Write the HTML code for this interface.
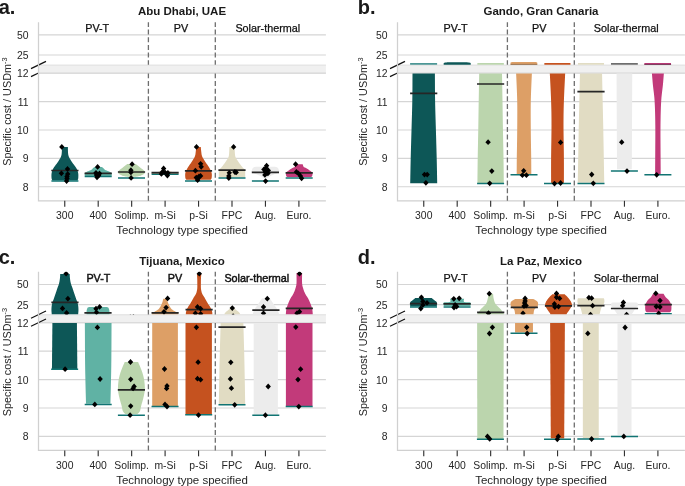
<!DOCTYPE html><html><head><meta charset="utf-8"><style>html,body{margin:0;padding:0;background:#fff;}svg{display:block;font-family:"Liberation Sans", sans-serif;will-change:transform;}</style></head><body>
<svg width="685" height="486" viewBox="0 0 685 486">
<rect width="685" height="486" fill="#fff"/>
<defs>
<clipPath id="cau"><rect x="38.5" y="22.2" width="287.4" height="42.6"/></clipPath>
<clipPath id="cal"><rect x="38.5" y="73.4" width="287.4" height="127.4"/></clipPath>
<clipPath id="cbu"><rect x="397.5" y="22.2" width="287.4" height="42.6"/></clipPath>
<clipPath id="cbl"><rect x="397.5" y="73.4" width="287.4" height="127.4"/></clipPath>
<clipPath id="ccu"><rect x="38.5" y="271.8" width="287.4" height="42.6"/></clipPath>
<clipPath id="ccl"><rect x="38.5" y="323" width="287.4" height="127.4"/></clipPath>
<clipPath id="cdu"><rect x="397.5" y="271.8" width="287.4" height="42.6"/></clipPath>
<clipPath id="cdl"><rect x="397.5" y="323" width="287.4" height="127.4"/></clipPath>
</defs>
<rect x="38.5" y="64.6" width="287.4" height="9.3" fill="#f0f0f0"/>
<line x1="38.5" x2="325.9" y1="65.2" y2="65.2" stroke="#e1e1e1" stroke-width="1"/>
<line x1="38.5" x2="325.9" y1="34.9" y2="34.9" stroke="#d5d5d5" stroke-width="1.15"/>
<line x1="38.5" x2="325.9" y1="55" y2="55" stroke="#d5d5d5" stroke-width="1.15"/>
<line x1="38.5" x2="325.9" y1="73.15" y2="73.15" stroke="#d5d5d5" stroke-width="1.15"/>
<line x1="38.5" x2="325.9" y1="101.55" y2="101.55" stroke="#d5d5d5" stroke-width="1.15"/>
<line x1="38.5" x2="325.9" y1="130" y2="130" stroke="#d5d5d5" stroke-width="1.15"/>
<line x1="38.5" x2="325.9" y1="158.4" y2="158.4" stroke="#d5d5d5" stroke-width="1.15"/>
<line x1="38.5" x2="325.9" y1="186.7" y2="186.7" stroke="#d5d5d5" stroke-width="1.15"/>
<line x1="31" y1="68.6" x2="46" y2="61.4" stroke="#111" stroke-width="1.2"/>
<line x1="31" y1="76.6" x2="38.5" y2="73" stroke="#111" stroke-width="1.2"/>
<path d="M38.5,22.2 L38.5,200.8 L325.9,200.8" fill="none" stroke="#d0d0d0" stroke-width="1.25"/>
<rect x="397.5" y="64.6" width="287.4" height="9.3" fill="#f0f0f0"/>
<line x1="397.5" x2="684.9" y1="65.2" y2="65.2" stroke="#e1e1e1" stroke-width="1"/>
<line x1="397.5" x2="684.9" y1="34.9" y2="34.9" stroke="#d5d5d5" stroke-width="1.15"/>
<line x1="397.5" x2="684.9" y1="55" y2="55" stroke="#d5d5d5" stroke-width="1.15"/>
<line x1="397.5" x2="684.9" y1="73.15" y2="73.15" stroke="#d5d5d5" stroke-width="1.15"/>
<line x1="397.5" x2="684.9" y1="101.55" y2="101.55" stroke="#d5d5d5" stroke-width="1.15"/>
<line x1="397.5" x2="684.9" y1="130" y2="130" stroke="#d5d5d5" stroke-width="1.15"/>
<line x1="397.5" x2="684.9" y1="158.4" y2="158.4" stroke="#d5d5d5" stroke-width="1.15"/>
<line x1="397.5" x2="684.9" y1="186.7" y2="186.7" stroke="#d5d5d5" stroke-width="1.15"/>
<line x1="390" y1="68.6" x2="405" y2="61.4" stroke="#111" stroke-width="1.2"/>
<line x1="390" y1="76.6" x2="397.5" y2="73" stroke="#111" stroke-width="1.2"/>
<path d="M397.5,22.2 L397.5,200.8 L684.9,200.8" fill="none" stroke="#d0d0d0" stroke-width="1.25"/>
<rect x="38.5" y="314.2" width="287.4" height="9.3" fill="#f0f0f0"/>
<line x1="38.5" x2="325.9" y1="314.8" y2="314.8" stroke="#e1e1e1" stroke-width="1"/>
<line x1="38.5" x2="325.9" y1="284.5" y2="284.5" stroke="#d5d5d5" stroke-width="1.15"/>
<line x1="38.5" x2="325.9" y1="304.6" y2="304.6" stroke="#d5d5d5" stroke-width="1.15"/>
<line x1="38.5" x2="325.9" y1="322.75" y2="322.75" stroke="#d5d5d5" stroke-width="1.15"/>
<line x1="38.5" x2="325.9" y1="351.15" y2="351.15" stroke="#d5d5d5" stroke-width="1.15"/>
<line x1="38.5" x2="325.9" y1="379.6" y2="379.6" stroke="#d5d5d5" stroke-width="1.15"/>
<line x1="38.5" x2="325.9" y1="408" y2="408" stroke="#d5d5d5" stroke-width="1.15"/>
<line x1="38.5" x2="325.9" y1="436.3" y2="436.3" stroke="#d5d5d5" stroke-width="1.15"/>
<line x1="31" y1="318.2" x2="46" y2="311" stroke="#111" stroke-width="1.2"/>
<line x1="31" y1="326.2" x2="46" y2="319" stroke="#111" stroke-width="1.2"/>
<path d="M38.5,271.8 L38.5,450.4 L325.9,450.4" fill="none" stroke="#d0d0d0" stroke-width="1.25"/>
<rect x="397.5" y="314.2" width="287.4" height="9.3" fill="#f0f0f0"/>
<line x1="397.5" x2="684.9" y1="314.8" y2="314.8" stroke="#e1e1e1" stroke-width="1"/>
<line x1="397.5" x2="684.9" y1="284.5" y2="284.5" stroke="#d5d5d5" stroke-width="1.15"/>
<line x1="397.5" x2="684.9" y1="304.6" y2="304.6" stroke="#d5d5d5" stroke-width="1.15"/>
<line x1="397.5" x2="684.9" y1="322.75" y2="322.75" stroke="#d5d5d5" stroke-width="1.15"/>
<line x1="397.5" x2="684.9" y1="351.15" y2="351.15" stroke="#d5d5d5" stroke-width="1.15"/>
<line x1="397.5" x2="684.9" y1="379.6" y2="379.6" stroke="#d5d5d5" stroke-width="1.15"/>
<line x1="397.5" x2="684.9" y1="408" y2="408" stroke="#d5d5d5" stroke-width="1.15"/>
<line x1="397.5" x2="684.9" y1="436.3" y2="436.3" stroke="#d5d5d5" stroke-width="1.15"/>
<line x1="390" y1="318.2" x2="405" y2="311" stroke="#111" stroke-width="1.2"/>
<line x1="390" y1="326.2" x2="405" y2="319" stroke="#111" stroke-width="1.2"/>
<path d="M397.5,271.8 L397.5,450.4 L684.9,450.4" fill="none" stroke="#d0d0d0" stroke-width="1.25"/>
<g clip-path="url(#cal)">
<path d="M61.9,147.1 L61.89,147.64 L61.89,148.4 L61.89,149.3 L61.87,150.25 L61.85,151.18 L61.8,152 L61.75,152.72 L61.7,153.39 L61.63,154.04 L61.54,154.68 L61.4,155.33 L61.2,156 L60.94,156.7 L60.61,157.41 L60.25,158.13 L59.85,158.86 L59.43,159.58 L59,160.3 L58.55,161.02 L58.06,161.73 L57.55,162.44 L57.03,163.16 L56.51,163.88 L56,164.6 L55.48,165.33 L54.94,166.06 L54.4,166.8 L53.88,167.54 L53.41,168.27 L53,169 L52.66,169.72 L52.37,170.44 L52.12,171.16 L51.91,171.87 L51.74,172.58 L51.6,173.3 L51.5,174.04 L51.45,174.82 L51.44,175.59 L51.45,176.34 L51.47,177.02 L51.5,177.6 L51.54,178.08 L51.59,178.47 L51.66,178.81 L51.73,179.09 L51.82,179.35 L51.9,179.6 L52,179.84 L52.11,180.04 L52.23,180.22 L52.34,180.38 L52.43,180.5 L52.5,180.6 L77.3,180.6 L77.37,180.5 L77.46,180.38 L77.58,180.22 L77.69,180.04 L77.8,179.84 L77.9,179.6 L77.98,179.35 L78.07,179.09 L78.14,178.81 L78.21,178.47 L78.26,178.08 L78.3,177.6 L78.33,177.02 L78.35,176.34 L78.36,175.59 L78.35,174.82 L78.3,174.04 L78.2,173.3 L78.06,172.58 L77.89,171.87 L77.68,171.16 L77.43,170.44 L77.14,169.72 L76.8,169 L76.39,168.27 L75.92,167.54 L75.4,166.8 L74.86,166.06 L74.32,165.33 L73.8,164.6 L73.29,163.88 L72.77,163.16 L72.25,162.44 L71.74,161.73 L71.25,161.02 L70.8,160.3 L70.37,159.58 L69.95,158.86 L69.55,158.13 L69.19,157.41 L68.86,156.7 L68.6,156 L68.4,155.33 L68.26,154.68 L68.17,154.04 L68.1,153.39 L68.05,152.72 L68,152 L67.95,151.18 L67.93,150.25 L67.91,149.3 L67.91,148.4 L67.91,147.64 L67.9,147.1 Z" fill="#0d5757"/>
<path d="M94.7,166.9 L94.54,167.01 L94.33,167.16 L94.08,167.33 L93.79,167.53 L93.5,167.76 L93.2,168 L92.93,168.27 L92.67,168.57 L92.4,168.89 L92.09,169.23 L91.7,169.57 L91.2,169.9 L90.54,170.24 L89.72,170.59 L88.83,170.94 L87.94,171.28 L87.14,171.61 L86.5,171.9 L86.02,172.14 L85.65,172.32 L85.36,172.49 L85.13,172.67 L84.95,172.89 L84.8,173.2 L84.7,173.64 L84.67,174.19 L84.69,174.78 L84.74,175.36 L84.78,175.85 L84.8,176.2 L111.6,176.2 L111.62,175.85 L111.66,175.36 L111.71,174.78 L111.73,174.19 L111.7,173.64 L111.6,173.2 L111.45,172.89 L111.27,172.67 L111.04,172.49 L110.75,172.32 L110.38,172.14 L109.9,171.9 L109.26,171.61 L108.46,171.28 L107.57,170.94 L106.68,170.59 L105.86,170.24 L105.2,169.9 L104.7,169.57 L104.31,169.23 L104,168.89 L103.73,168.57 L103.47,168.27 L103.2,168 L102.9,167.76 L102.61,167.53 L102.33,167.33 L102.07,167.16 L101.86,167.01 L101.7,166.9 Z" fill="#60b2a4"/>
<path d="M127.3,164 L126.74,164.44 L125.94,165.06 L125,165.79 L124.02,166.56 L123.09,167.29 L122.3,167.9 L121.64,168.41 L121.01,168.87 L120.44,169.3 L119.93,169.69 L119.48,170.06 L119.1,170.4 L118.8,170.7 L118.57,170.96 L118.41,171.18 L118.3,171.4 L118.23,171.63 L118.2,171.9 L118.18,172.2 L118.19,172.53 L118.23,172.87 L118.35,173.21 L118.56,173.56 L118.9,173.9 L119.4,174.25 L120.03,174.61 L120.77,174.98 L121.56,175.32 L122.35,175.64 L123.1,175.9 L123.87,176.11 L124.71,176.29 L125.56,176.42 L126.35,176.54 L127.02,176.63 L127.5,176.7 L135.5,176.7 L135.98,176.63 L136.65,176.54 L137.44,176.42 L138.29,176.29 L139.13,176.11 L139.9,175.9 L140.65,175.64 L141.44,175.32 L142.23,174.98 L142.97,174.61 L143.6,174.25 L144.1,173.9 L144.44,173.56 L144.65,173.21 L144.77,172.87 L144.81,172.53 L144.82,172.2 L144.8,171.9 L144.77,171.63 L144.7,171.4 L144.59,171.18 L144.43,170.96 L144.2,170.7 L143.9,170.4 L143.52,170.06 L143.07,169.69 L142.56,169.3 L141.99,168.87 L141.36,168.41 L140.7,167.9 L139.91,167.29 L138.98,166.56 L138,165.79 L137.06,165.06 L136.26,164.44 L135.7,164 Z" fill="#bbd5ad"/>
<path d="M163.1,171.3 L162.44,171.39 L161.51,171.51 L160.41,171.66 L159.25,171.81 L158.11,171.96 L157.1,172.1 L156.15,172.22 L155.17,172.33 L154.22,172.44 L153.36,172.55 L152.63,172.67 L152.1,172.8 L151.81,172.96 L151.73,173.15 L151.79,173.34 L151.91,173.53 L152.04,173.69 L152.1,173.8 L178.1,173.8 L178.16,173.69 L178.29,173.53 L178.41,173.34 L178.47,173.15 L178.39,172.96 L178.1,172.8 L177.57,172.67 L176.84,172.55 L175.97,172.44 L175.03,172.33 L174.05,172.22 L173.1,172.1 L172.09,171.96 L170.95,171.81 L169.79,171.66 L168.69,171.51 L167.76,171.39 L167.1,171.3 Z" fill="#dd9f66"/>
<path d="M196.2,147.1 L196.15,147.64 L196.08,148.4 L195.99,149.3 L195.9,150.25 L195.8,151.18 L195.7,152 L195.61,152.72 L195.54,153.39 L195.46,154.04 L195.36,154.68 L195.21,155.33 L195,156 L194.72,156.7 L194.37,157.41 L193.99,158.13 L193.57,158.86 L193.14,159.58 L192.7,160.3 L192.25,161.02 L191.77,161.73 L191.28,162.44 L190.78,163.16 L190.28,163.88 L189.8,164.6 L189.31,165.33 L188.82,166.06 L188.32,166.8 L187.85,167.54 L187.4,168.27 L187,169 L186.63,169.72 L186.29,170.44 L185.97,171.16 L185.7,171.87 L185.47,172.58 L185.3,173.3 L185.19,174.05 L185.15,174.83 L185.16,175.62 L185.19,176.37 L185.25,177.04 L185.3,177.6 L185.37,178.03 L185.46,178.37 L185.56,178.63 L185.68,178.84 L185.79,179.02 L185.9,179.2 L186.01,179.36 L186.12,179.5 L186.24,179.6 L186.34,179.68 L186.43,179.75 L186.5,179.8 L210.5,179.8 L210.57,179.75 L210.66,179.68 L210.76,179.6 L210.88,179.5 L210.99,179.36 L211.1,179.2 L211.21,179.02 L211.32,178.84 L211.44,178.63 L211.54,178.37 L211.63,178.03 L211.7,177.6 L211.75,177.04 L211.81,176.37 L211.84,175.62 L211.85,174.83 L211.81,174.05 L211.7,173.3 L211.53,172.58 L211.3,171.87 L211.03,171.16 L210.71,170.44 L210.37,169.72 L210,169 L209.6,168.27 L209.15,167.54 L208.68,166.8 L208.18,166.06 L207.69,165.33 L207.2,164.6 L206.72,163.88 L206.22,163.16 L205.72,162.44 L205.23,161.73 L204.75,161.02 L204.3,160.3 L203.86,159.58 L203.43,158.86 L203.01,158.13 L202.63,157.41 L202.28,156.7 L202,156 L201.79,155.33 L201.64,154.68 L201.54,154.04 L201.46,153.39 L201.39,152.72 L201.3,152 L201.2,151.18 L201.1,150.25 L201.01,149.3 L200.92,148.4 L200.85,147.64 L200.8,147.1 Z" fill="#c5521f"/>
<path d="M229.4,147.1 L229.35,148.12 L229.3,149.58 L229.24,151.28 L229.14,153.04 L229,154.68 L228.8,156 L228.54,156.98 L228.21,157.77 L227.85,158.44 L227.45,159.04 L227.03,159.64 L226.6,160.3 L226.14,161.03 L225.65,161.76 L225.14,162.5 L224.61,163.23 L224.1,163.93 L223.6,164.6 L223.11,165.25 L222.61,165.89 L222.12,166.51 L221.65,167.1 L221.21,167.63 L220.8,168.1 L220.42,168.47 L220.07,168.73 L219.74,168.95 L219.44,169.17 L219.2,169.43 L219,169.8 L218.87,170.27 L218.81,170.82 L218.79,171.41 L218.79,172.04 L218.8,172.67 L218.8,173.3 L218.79,173.97 L218.79,174.71 L218.79,175.47 L218.79,176.17 L218.8,176.77 L218.8,177.2 L245.2,177.2 L245.2,176.77 L245.21,176.17 L245.21,175.47 L245.21,174.71 L245.21,173.97 L245.2,173.3 L245.2,172.67 L245.21,172.04 L245.21,171.41 L245.19,170.82 L245.13,170.27 L245,169.8 L244.8,169.43 L244.56,169.17 L244.26,168.95 L243.93,168.73 L243.58,168.47 L243.2,168.1 L242.79,167.63 L242.35,167.1 L241.88,166.51 L241.39,165.89 L240.89,165.25 L240.4,164.6 L239.9,163.93 L239.39,163.23 L238.86,162.5 L238.35,161.76 L237.86,161.03 L237.4,160.3 L236.97,159.64 L236.55,159.04 L236.15,158.44 L235.79,157.77 L235.46,156.98 L235.2,156 L235,154.68 L234.86,153.04 L234.76,151.28 L234.7,149.58 L234.65,148.12 L234.6,147.1 Z" fill="#e1dcc3"/>
<path d="M256.4,166.7 L256.07,166.76 L255.6,166.81 L255.04,166.89 L254.47,167.01 L253.94,167.17 L253.5,167.4 L253.15,167.71 L252.84,168.1 L252.57,168.54 L252.34,169 L252.15,169.46 L252,169.9 L251.84,170.32 L251.67,170.73 L251.53,171.15 L251.5,171.57 L251.64,171.98 L252,172.4 L252.68,172.82 L253.63,173.25 L254.76,173.68 L255.93,174.1 L257.05,174.51 L258,174.9 L258.79,175.27 L259.51,175.62 L260.17,175.96 L260.78,176.29 L261.36,176.6 L261.9,176.9 L262.43,177.2 L262.93,177.49 L263.39,177.78 L263.8,178.03 L264.14,178.24 L264.4,178.4 L266.4,178.4 L266.66,178.24 L267,178.03 L267.41,177.78 L267.87,177.49 L268.37,177.2 L268.9,176.9 L269.44,176.6 L270.02,176.29 L270.63,175.96 L271.29,175.62 L272.01,175.27 L272.8,174.9 L273.75,174.51 L274.87,174.1 L276.04,173.68 L277.17,173.25 L278.12,172.82 L278.8,172.4 L279.16,171.98 L279.3,171.57 L279.27,171.15 L279.13,170.73 L278.96,170.32 L278.8,169.9 L278.65,169.46 L278.46,169 L278.23,168.54 L277.96,168.1 L277.65,167.71 L277.3,167.4 L276.86,167.17 L276.33,167.01 L275.76,166.89 L275.2,166.81 L274.73,166.76 L274.4,166.7 Z" fill="#ececec"/>
<path d="M295.7,164.2 L295.61,164.51 L295.49,164.96 L295.34,165.49 L295.16,166.03 L294.95,166.52 L294.7,166.9 L294.42,167.15 L294.11,167.3 L293.77,167.41 L293.39,167.52 L292.97,167.67 L292.5,167.9 L291.96,168.24 L291.33,168.64 L290.67,169.09 L290,169.55 L289.36,169.99 L288.8,170.4 L288.29,170.76 L287.8,171.1 L287.34,171.43 L286.93,171.75 L286.58,172.07 L286.3,172.4 L286.1,172.74 L285.98,173.07 L285.91,173.41 L285.89,173.75 L285.89,174.08 L285.9,174.4 L285.93,174.72 L285.99,175.06 L286.07,175.38 L286.18,175.69 L286.29,175.97 L286.4,176.2 L286.53,176.39 L286.67,176.54 L286.83,176.66 L286.98,176.76 L287.11,176.84 L287.2,176.9 L311.2,176.9 L311.29,176.84 L311.42,176.76 L311.57,176.66 L311.73,176.54 L311.87,176.39 L312,176.2 L312.11,175.97 L312.22,175.69 L312.32,175.38 L312.41,175.06 L312.47,174.72 L312.5,174.4 L312.51,174.08 L312.51,173.75 L312.49,173.41 L312.42,173.07 L312.3,172.74 L312.1,172.4 L311.82,172.07 L311.47,171.75 L311.06,171.43 L310.6,171.1 L310.11,170.76 L309.6,170.4 L309.04,169.99 L308.4,169.55 L307.73,169.09 L307.07,168.64 L306.44,168.24 L305.9,167.9 L305.43,167.67 L305.01,167.52 L304.63,167.41 L304.29,167.3 L303.98,167.15 L303.7,166.9 L303.45,166.52 L303.24,166.03 L303.06,165.49 L302.91,164.96 L302.79,164.51 L302.7,164.2 Z" fill="#c23a7a"/>
<line x1="51.4" x2="78.4" y1="181" y2="181" stroke="#117473" stroke-width="1.5"/>
<line x1="51.3" x2="78.5" y1="170.5" y2="170.5" stroke="#262626" stroke-width="1.7"/>
<line x1="84.7" x2="111.7" y1="176.6" y2="176.6" stroke="#117473" stroke-width="1.5"/>
<line x1="84.6" x2="111.8" y1="173.3" y2="173.3" stroke="#262626" stroke-width="1.7"/>
<line x1="118" x2="145" y1="178.1" y2="178.1" stroke="#117473" stroke-width="1.5"/>
<line x1="117.9" x2="145.1" y1="172" y2="172" stroke="#262626" stroke-width="1.7"/>
<line x1="151.6" x2="178.6" y1="174.3" y2="174.3" stroke="#117473" stroke-width="1.5"/>
<line x1="151.5" x2="178.7" y1="172.7" y2="172.7" stroke="#262626" stroke-width="1.7"/>
<line x1="185" x2="212" y1="181.1" y2="181.1" stroke="#117473" stroke-width="1.5"/>
<line x1="184.9" x2="212.1" y1="170.9" y2="170.9" stroke="#262626" stroke-width="1.7"/>
<line x1="218.5" x2="245.5" y1="178" y2="178" stroke="#117473" stroke-width="1.5"/>
<line x1="218.4" x2="245.6" y1="170.2" y2="170.2" stroke="#262626" stroke-width="1.7"/>
<line x1="251.9" x2="278.9" y1="181.1" y2="181.1" stroke="#117473" stroke-width="1.5"/>
<line x1="251.8" x2="279" y1="172.4" y2="172.4" stroke="#262626" stroke-width="1.7"/>
<line x1="285.7" x2="312.7" y1="178.1" y2="178.1" stroke="#117473" stroke-width="1.5"/>
<line x1="285.6" x2="312.8" y1="172.9" y2="172.9" stroke="#262626" stroke-width="1.7"/>
<path d="M61.8,144 L64.5,146.9 L61.8,149.8 L59.1,146.9 Z" fill="#000"/>
<path d="M67.5,166.1 L70.2,169 L67.5,171.9 L64.8,169 Z" fill="#000"/>
<path d="M61.4,170.4 L64.1,173.3 L61.4,176.2 L58.7,173.3 Z" fill="#000"/>
<path d="M67.7,171.2 L70.4,174.1 L67.7,177 L65,174.1 Z" fill="#000"/>
<path d="M67,173.6 L69.7,176.5 L67,179.4 L64.3,176.5 Z" fill="#000"/>
<path d="M67,175.6 L69.7,178.5 L67,181.4 L64.3,178.5 Z" fill="#000"/>
<path d="M66.6,178.2 L69.3,181.1 L66.6,184 L63.9,181.1 Z" fill="#000"/>
<path d="M97.6,164 L100.3,166.9 L97.6,169.8 L94.9,166.9 Z" fill="#000"/>
<path d="M96,169.9 L98.7,172.8 L96,175.7 L93.3,172.8 Z" fill="#000"/>
<path d="M99.5,170.6 L102.2,173.5 L99.5,176.4 L96.8,173.5 Z" fill="#000"/>
<path d="M96.5,172.1 L99.2,175 L96.5,177.9 L93.8,175 Z" fill="#000"/>
<path d="M98.6,172.6 L101.3,175.5 L98.6,178.4 L95.9,175.5 Z" fill="#000"/>
<path d="M97,174.4 L99.7,177.3 L97,180.2 L94.3,177.3 Z" fill="#000"/>
<path d="M132.1,161.3 L134.8,164.2 L132.1,167.1 L129.4,164.2 Z" fill="#000"/>
<path d="M130.9,167.3 L133.6,170.2 L130.9,173.1 L128.2,170.2 Z" fill="#000"/>
<path d="M130.9,169.5 L133.6,172.4 L130.9,175.3 L128.2,172.4 Z" fill="#000"/>
<path d="M131.1,175 L133.8,177.9 L131.1,180.8 L128.4,177.9 Z" fill="#000"/>
<path d="M163.6,165.6 L166.3,168.5 L163.6,171.4 L160.9,168.5 Z" fill="#000"/>
<path d="M162.4,169 L165.1,171.9 L162.4,174.8 L159.7,171.9 Z" fill="#000"/>
<path d="M167.9,170 L170.6,172.9 L167.9,175.8 L165.2,172.9 Z" fill="#000"/>
<path d="M161.4,171 L164.1,173.9 L161.4,176.8 L158.7,173.9 Z" fill="#000"/>
<path d="M167.4,172.7 L170.1,175.6 L167.4,178.5 L164.7,175.6 Z" fill="#000"/>
<path d="M165,169.6 L167.7,172.5 L165,175.4 L162.3,172.5 Z" fill="#000"/>
<path d="M196.5,144 L199.2,146.9 L196.5,149.8 L193.8,146.9 Z" fill="#000"/>
<path d="M200.6,160.9 L203.3,163.8 L200.6,166.7 L197.9,163.8 Z" fill="#000"/>
<path d="M201.2,163.9 L203.9,166.8 L201.2,169.7 L198.5,166.8 Z" fill="#000"/>
<path d="M195.4,167.8 L198.1,170.7 L195.4,173.6 L192.7,170.7 Z" fill="#000"/>
<path d="M200.6,173 L203.3,175.9 L200.6,178.8 L197.9,175.9 Z" fill="#000"/>
<path d="M196.3,174.7 L199,177.6 L196.3,180.5 L193.6,177.6 Z" fill="#000"/>
<path d="M197.6,177.3 L200.3,180.2 L197.6,183.1 L194.9,180.2 Z" fill="#000"/>
<path d="M199,173.6 L201.7,176.5 L199,179.4 L196.3,176.5 Z" fill="#000"/>
<path d="M198,175.6 L200.7,178.5 L198,181.4 L195.3,178.5 Z" fill="#000"/>
<path d="M233.6,144 L236.3,146.9 L233.6,149.8 L230.9,146.9 Z" fill="#000"/>
<path d="M234.9,169.1 L237.6,172 L234.9,174.9 L232.2,172 Z" fill="#000"/>
<path d="M236.2,169.5 L238.9,172.4 L236.2,175.3 L233.5,172.4 Z" fill="#000"/>
<path d="M229.3,169.9 L232,172.8 L229.3,175.7 L226.6,172.8 Z" fill="#000"/>
<path d="M228.8,173 L231.5,175.9 L228.8,178.8 L226.1,175.9 Z" fill="#000"/>
<path d="M228.8,175.1 L231.5,178 L228.8,180.9 L226.1,178 Z" fill="#000"/>
<path d="M266.6,162.8 L269.3,165.7 L266.6,168.6 L263.9,165.7 Z" fill="#000"/>
<path d="M265.9,165 L268.6,167.9 L265.9,170.8 L263.2,167.9 Z" fill="#000"/>
<path d="M263.9,166.5 L266.6,169.4 L263.9,172.3 L261.2,169.4 Z" fill="#000"/>
<path d="M268.3,167.5 L271,170.4 L268.3,173.3 L265.6,170.4 Z" fill="#000"/>
<path d="M265.1,169 L267.8,171.9 L265.1,174.8 L262.4,171.9 Z" fill="#000"/>
<path d="M267.9,170.5 L270.6,173.4 L267.9,176.3 L265.2,173.4 Z" fill="#000"/>
<path d="M264.9,172 L267.6,174.9 L264.9,177.8 L262.2,174.9 Z" fill="#000"/>
<path d="M265.6,178.2 L268.3,181.1 L265.6,184 L262.9,181.1 Z" fill="#000"/>
<path d="M295.6,161.3 L298.3,164.2 L295.6,167.1 L292.9,164.2 Z" fill="#000"/>
<path d="M296.4,169 L299.1,171.9 L296.4,174.8 L293.7,171.9 Z" fill="#000"/>
<path d="M298.4,170.5 L301.1,173.4 L298.4,176.3 L295.7,173.4 Z" fill="#000"/>
<path d="M300.4,173 L303.1,175.9 L300.4,178.8 L297.7,175.9 Z" fill="#000"/>
<path d="M301.6,175.4 L304.3,178.3 L301.6,181.2 L298.9,178.3 Z" fill="#000"/>
</g>
<g clip-path="url(#cbl)">
<path d="M412.5,73 L412.49,76.03 L412.47,80.22 L412.45,85.19 L412.42,90.56 L412.37,95.95 L412.3,101 L412.2,105.78 L412.08,110.62 L411.94,115.48 L411.79,120.35 L411.64,125.2 L411.5,130 L411.36,134.8 L411.22,139.61 L411.08,144.4 L410.94,149.14 L410.82,153.78 L410.7,158.3 L410.59,162.95 L410.49,167.8 L410.4,172.57 L410.32,176.94 L410.25,180.62 L410.2,183.3 L437.2,183.3 L437.15,180.62 L437.08,176.94 L437,172.57 L436.91,167.8 L436.81,162.95 L436.7,158.3 L436.58,153.78 L436.46,149.14 L436.32,144.4 L436.18,139.61 L436.04,134.8 L435.9,130 L435.76,125.2 L435.61,120.35 L435.46,115.48 L435.32,110.62 L435.2,105.78 L435.1,101 L435.03,95.95 L434.98,90.56 L434.95,85.19 L434.93,80.22 L434.91,76.03 L434.9,73 Z" fill="#0d5757"/>
<path d="M479.2,73 L479.15,76.03 L479.07,80.22 L478.98,85.19 L478.88,90.56 L478.79,95.95 L478.7,101 L478.62,105.79 L478.55,110.63 L478.48,115.5 L478.41,120.37 L478.33,125.21 L478.25,130 L478.16,134.76 L478.06,139.51 L477.97,144.23 L477.87,148.9 L477.78,153.5 L477.7,158 L477.63,162.67 L477.57,167.57 L477.52,172.4 L477.47,176.84 L477.43,180.58 L477.4,183.3 L503.8,183.3 L503.77,180.58 L503.73,176.84 L503.68,172.4 L503.63,167.57 L503.57,162.67 L503.5,158 L503.42,153.5 L503.33,148.9 L503.23,144.23 L503.14,139.51 L503.04,134.76 L502.95,130 L502.87,125.21 L502.79,120.37 L502.72,115.5 L502.65,110.63 L502.58,105.79 L502.5,101 L502.41,95.95 L502.32,90.56 L502.22,85.19 L502.13,80.22 L502.05,76.03 L502,73 Z" fill="#bbd5ad"/>
<path d="M516.1,73 L516.23,76.03 L516.43,80.22 L516.65,85.19 L516.87,90.56 L517.07,95.95 L517.2,101 L517.27,105.79 L517.3,110.63 L517.29,115.5 L517.27,120.37 L517.24,125.21 L517.2,130 L517.15,134.86 L517.09,139.86 L517.01,144.82 L516.93,149.6 L516.85,154.05 L516.8,158 L516.76,161.53 L516.74,164.79 L516.73,167.7 L516.71,170.23 L516.71,172.31 L516.7,173.9 L531.3,173.9 L531.29,172.31 L531.29,170.23 L531.27,167.7 L531.26,164.79 L531.24,161.53 L531.2,158 L531.15,154.05 L531.07,149.6 L530.99,144.82 L530.91,139.86 L530.85,134.86 L530.8,130 L530.76,125.21 L530.73,120.37 L530.71,115.5 L530.7,110.63 L530.73,105.79 L530.8,101 L530.93,95.95 L531.13,90.56 L531.35,85.19 L531.57,80.22 L531.77,76.03 L531.9,73 Z" fill="#dd9f66"/>
<path d="M549.8,73 L549.95,76.09 L550.17,80.41 L550.42,85.5 L550.69,90.93 L550.92,96.24 L551.1,101 L551.23,105.13 L551.33,108.96 L551.41,112.69 L551.46,116.48 L551.49,120.53 L551.5,125 L551.48,130.07 L551.41,135.62 L551.33,141.42 L551.23,147.24 L551.15,152.85 L551.1,158 L551.08,162.94 L551.07,167.91 L551.08,172.66 L551.09,176.96 L551.1,180.55 L551.1,183.2 L563.9,183.2 L563.9,180.55 L563.91,176.96 L563.92,172.66 L563.93,167.91 L563.92,162.94 L563.9,158 L563.85,152.85 L563.77,147.24 L563.67,141.42 L563.59,135.62 L563.52,130.07 L563.5,125 L563.51,120.53 L563.54,116.48 L563.59,112.69 L563.67,108.96 L563.77,105.13 L563.9,101 L564.08,96.24 L564.31,90.93 L564.58,85.5 L564.83,80.41 L565.05,76.09 L565.2,73 Z" fill="#c5521f"/>
<path d="M579.95,73 L579.81,79.2 L579.61,88.22 L579.38,98.69 L579.15,109.22 L578.94,118.45 L578.8,125 L578.73,128 L578.72,128.38 L578.74,127.45 L578.76,126.53 L578.75,126.94 L578.7,130 L578.58,136.64 L578.41,146.01 L578.22,156.71 L578.03,167.34 L577.86,176.5 L577.75,182.8 L604.25,182.8 L604.14,176.5 L603.97,167.34 L603.78,156.71 L603.59,146.01 L603.42,136.64 L603.3,130 L603.25,126.94 L603.24,126.53 L603.26,127.45 L603.28,128.38 L603.27,128 L603.2,125 L603.06,118.45 L602.85,109.22 L602.62,98.69 L602.39,88.22 L602.19,79.2 L602.05,73 Z" fill="#e1dcc3"/>
<path d="M616.55,73 L616.58,79.41 L616.62,88.44 L616.66,99.05 L616.71,110.21 L616.76,120.87 L616.8,130 L616.84,138.02 L616.88,145.84 L616.92,153.16 L616.95,159.7 L616.98,165.14 L617,169.2 L631.8,169.2 L631.82,165.14 L631.85,159.7 L631.88,153.16 L631.92,145.84 L631.96,138.02 L632,130 L632.04,120.87 L632.09,110.21 L632.14,99.05 L632.18,88.44 L632.22,79.41 L632.25,73 Z" fill="#ececec"/>
<path d="M651.9,73 L652,74.26 L652.13,75.96 L652.29,78 L652.48,80.26 L652.68,82.63 L652.9,85 L653.15,87.34 L653.45,89.74 L653.77,92.25 L654.08,94.93 L654.37,97.82 L654.6,101 L654.78,104.43 L654.94,108.07 L655.06,111.94 L655.16,116.04 L655.24,120.39 L655.3,125 L655.33,130.18 L655.33,135.96 L655.3,142 L655.26,147.93 L655.23,153.38 L655.2,158 L655.18,161.84 L655.16,165.19 L655.14,168.06 L655.13,170.48 L655.11,172.46 L655.1,174 L660.7,174 L660.69,172.46 L660.67,170.48 L660.66,168.06 L660.64,165.19 L660.62,161.84 L660.6,158 L660.57,153.38 L660.54,147.93 L660.5,142 L660.47,135.96 L660.47,130.18 L660.5,125 L660.56,120.39 L660.64,116.04 L660.74,111.94 L660.86,108.07 L661.02,104.43 L661.2,101 L661.43,97.82 L661.72,94.93 L662.03,92.25 L662.35,89.74 L662.65,87.34 L662.9,85 L663.12,82.63 L663.32,80.26 L663.51,78 L663.67,75.96 L663.8,74.26 L663.9,73 Z" fill="#c23a7a"/>
<line x1="410.1" x2="437.3" y1="93.3" y2="93.3" stroke="#262626" stroke-width="1.7"/>
<line x1="477.1" x2="504.1" y1="183.6" y2="183.6" stroke="#117473" stroke-width="1.5"/>
<line x1="477" x2="504.2" y1="84" y2="84" stroke="#262626" stroke-width="1.7"/>
<line x1="510.5" x2="537.5" y1="174.7" y2="174.7" stroke="#117473" stroke-width="1.5"/>
<line x1="544" x2="571" y1="183.6" y2="183.6" stroke="#117473" stroke-width="1.5"/>
<line x1="577.5" x2="604.5" y1="183.6" y2="183.6" stroke="#117473" stroke-width="1.5"/>
<line x1="577.4" x2="604.6" y1="91.7" y2="91.7" stroke="#262626" stroke-width="1.7"/>
<line x1="610.9" x2="637.9" y1="171.1" y2="171.1" stroke="#117473" stroke-width="1.5"/>
<line x1="644.4" x2="671.4" y1="174.8" y2="174.8" stroke="#117473" stroke-width="1.5"/>
<path d="M424.5,171.7 L427.2,174.6 L424.5,177.5 L421.8,174.6 Z" fill="#000"/>
<path d="M427.2,171.7 L429.9,174.6 L427.2,177.5 L424.5,174.6 Z" fill="#000"/>
<path d="M425.9,179.9 L428.6,182.8 L425.9,185.7 L423.2,182.8 Z" fill="#000"/>
<path d="M488.1,139.3 L490.8,142.2 L488.1,145.1 L485.4,142.2 Z" fill="#000"/>
<path d="M491.8,168.2 L494.5,171.1 L491.8,174 L489.1,171.1 Z" fill="#000"/>
<path d="M489.7,180.4 L492.4,183.3 L489.7,186.2 L487,183.3 Z" fill="#000"/>
<path d="M523.7,167.9 L526.4,170.8 L523.7,173.7 L521,170.8 Z" fill="#000"/>
<path d="M522.4,172.3 L525.1,175.2 L522.4,178.1 L519.7,175.2 Z" fill="#000"/>
<path d="M526.4,172.3 L529.1,175.2 L526.4,178.1 L523.7,175.2 Z" fill="#000"/>
<path d="M560.6,139.5 L563.3,142.4 L560.6,145.3 L557.9,142.4 Z" fill="#000"/>
<path d="M554.5,180.7 L557.2,183.6 L554.5,186.5 L551.8,183.6 Z" fill="#000"/>
<path d="M560.6,180.1 L563.3,183 L560.6,185.9 L557.9,183 Z" fill="#000"/>
<path d="M591.7,171.6 L594.4,174.5 L591.7,177.4 L589,174.5 Z" fill="#000"/>
<path d="M593.3,180.4 L596,183.3 L593.3,186.2 L590.6,183.3 Z" fill="#000"/>
<path d="M621.7,139.3 L624.4,142.2 L621.7,145.1 L619,142.2 Z" fill="#000"/>
<path d="M627,168.2 L629.7,171.1 L627,174 L624.3,171.1 Z" fill="#000"/>
<path d="M656.7,171.9 L659.4,174.8 L656.7,177.7 L654,174.8 Z" fill="#000"/>
</g>
<g clip-path="url(#cbu)">
<path d="M448.2,62.2 L447.79,62.25 L447.2,62.33 L446.51,62.41 L445.81,62.51 L445.18,62.61 L444.7,62.7 L444.38,62.78 L444.14,62.86 L443.98,62.93 L443.87,63.02 L443.78,63.14 L443.7,63.3 L443.64,63.53 L443.63,63.82 L443.64,64.14 L443.66,64.45 L443.69,64.71 L443.7,64.9 L470.7,64.9 L470.71,64.71 L470.74,64.45 L470.76,64.14 L470.77,63.82 L470.76,63.53 L470.7,63.3 L470.62,63.14 L470.53,63.02 L470.42,62.93 L470.26,62.86 L470.02,62.78 L469.7,62.7 L469.22,62.61 L468.59,62.51 L467.89,62.41 L467.2,62.33 L466.61,62.25 L466.2,62.2 Z" fill="#0d5757"/>
<path d="M477.4,63.1 L477.3,64.9 L503.9,64.9 L503.8,63.1 Z" fill="#bbd5ad"/>
<path d="M511.9,62.1 L511.74,62.13 L511.51,62.16 L511.25,62.21 L510.99,62.28 L510.76,62.41 L510.6,62.6 L510.52,62.91 L510.5,63.32 L510.52,63.78 L510.55,64.24 L510.58,64.63 L510.6,64.9 L537.2,64.9 L537.22,64.63 L537.25,64.24 L537.28,63.78 L537.3,63.32 L537.28,62.91 L537.2,62.6 L537.04,62.41 L536.81,62.28 L536.55,62.21 L536.29,62.16 L536.06,62.13 L535.9,62.1 Z" fill="#dd9f66"/>
<path d="M544.8,62.9 L544.75,62.93 L544.67,62.96 L544.57,63 L544.48,63.06 L544.4,63.16 L544.35,63.3 L544.32,63.52 L544.32,63.8 L544.32,64.12 L544.33,64.44 L544.34,64.71 L544.35,64.9 L570.45,64.9 L570.46,64.71 L570.47,64.44 L570.48,64.12 L570.48,63.8 L570.48,63.52 L570.45,63.3 L570.4,63.16 L570.32,63.06 L570.23,63 L570.13,62.96 L570.05,62.93 L570,62.9 Z" fill="#c5521f"/>
<path d="M578,63 L578,64.9 L604,64.9 L604,63 Z" fill="#e1dcc3"/>
<path d="M610.9,63 L610.9,64.9 L637.9,64.9 L637.9,63 Z" fill="#ececec"/>
<path d="M644.9,62.9 L644.84,62.93 L644.75,62.96 L644.65,63 L644.55,63.06 L644.46,63.16 L644.4,63.3 L644.37,63.52 L644.36,63.8 L644.37,64.12 L644.38,64.44 L644.39,64.71 L644.4,64.9 L671,64.9 L671.01,64.71 L671.02,64.44 L671.03,64.12 L671.04,63.8 L671.03,63.52 L671,63.3 L670.94,63.16 L670.85,63.06 L670.75,63 L670.65,62.96 L670.56,62.93 L670.5,62.9 Z" fill="#c23a7a"/>
<line x1="410.1" x2="437.1" y1="64" y2="64" stroke="#117473" stroke-width="1.5"/>
<line x1="510.5" x2="537.3" y1="64.4" y2="64.4" stroke="#7a5c44" stroke-width="0.9"/>
<line x1="611" x2="637.8" y1="64" y2="64" stroke="#444" stroke-width="1.3"/>
<line x1="644.3" x2="671.1" y1="64.4" y2="64.4" stroke="#5a2a44" stroke-width="1.0"/>
</g>
<g clip-path="url(#ccu)">
<path d="M60.2,274 L60.18,274.46 L60.16,275.09 L60.13,275.83 L60.09,276.65 L60.03,277.49 L59.95,278.3 L59.85,279.1 L59.73,279.94 L59.6,280.79 L59.44,281.66 L59.26,282.53 L59.05,283.4 L58.8,284.26 L58.51,285.13 L58.2,286 L57.88,286.87 L57.55,287.74 L57.25,288.6 L56.96,289.45 L56.68,290.3 L56.4,291.15 L56.12,292 L55.84,292.85 L55.55,293.7 L55.25,294.56 L54.95,295.43 L54.65,296.3 L54.35,297.17 L54.05,298.04 L53.75,298.9 L53.45,299.75 L53.14,300.6 L52.83,301.45 L52.53,302.3 L52.27,303.15 L52.05,304 L51.88,304.86 L51.74,305.72 L51.62,306.59 L51.54,307.46 L51.49,308.33 L51.45,309.2 L51.45,310.14 L51.49,311.16 L51.56,312.17 L51.64,313.12 L51.71,313.92 L51.75,314.5 L78.15,314.5 L78.19,313.92 L78.26,313.12 L78.34,312.17 L78.41,311.16 L78.45,310.14 L78.45,309.2 L78.41,308.33 L78.36,307.46 L78.28,306.59 L78.16,305.72 L78.02,304.86 L77.85,304 L77.63,303.15 L77.37,302.3 L77.08,301.45 L76.76,300.6 L76.45,299.75 L76.15,298.9 L75.85,298.04 L75.55,297.17 L75.25,296.3 L74.95,295.43 L74.65,294.56 L74.35,293.7 L74.06,292.85 L73.78,292 L73.5,291.15 L73.22,290.3 L72.94,289.45 L72.65,288.6 L72.35,287.74 L72.02,286.87 L71.7,286 L71.39,285.13 L71.1,284.26 L70.85,283.4 L70.64,282.53 L70.46,281.66 L70.3,280.79 L70.17,279.94 L70.05,279.1 L69.95,278.3 L69.87,277.49 L69.81,276.65 L69.77,275.83 L69.74,275.09 L69.72,274.46 L69.7,274 Z" fill="#0d5757"/>
<path d="M89,307.1 L88.86,307.13 L88.65,307.15 L88.41,307.19 L88.16,307.26 L87.91,307.39 L87.7,307.6 L87.51,307.89 L87.31,308.25 L87.13,308.66 L86.96,309.13 L86.82,309.64 L86.7,310.2 L86.62,310.87 L86.57,311.67 L86.54,312.51 L86.52,313.32 L86.51,314.01 L86.5,314.5 L109.5,314.5 L109.49,314.01 L109.48,313.32 L109.46,312.51 L109.43,311.67 L109.38,310.87 L109.3,310.2 L109.18,309.64 L109.04,309.13 L108.87,308.66 L108.69,308.25 L108.49,307.89 L108.3,307.6 L108.09,307.39 L107.84,307.26 L107.59,307.19 L107.35,307.15 L107.14,307.13 L107,307.1 Z" fill="#60b2a4"/>
<path d="M163.3,298.75 L163.18,299.21 L163.03,299.84 L162.84,300.59 L162.63,301.4 L162.38,302.22 L162.1,303 L161.78,303.77 L161.41,304.6 L161.01,305.43 L160.59,306.23 L160.18,306.97 L159.8,307.6 L159.45,308.11 L159.11,308.53 L158.78,308.88 L158.44,309.19 L158.09,309.48 L157.7,309.8 L157.26,310.13 L156.78,310.46 L156.28,310.78 L155.79,311.08 L155.32,311.36 L154.9,311.6 L154.53,311.8 L154.2,311.96 L153.89,312.1 L153.6,312.23 L153.34,312.35 L153.1,312.5 L152.88,312.66 L152.68,312.82 L152.5,312.99 L152.34,313.16 L152.21,313.33 L152.1,313.5 L152.02,313.69 L151.97,313.9 L151.94,314.11 L151.92,314.31 L151.91,314.48 L151.9,314.6 L178.3,314.6 L178.29,314.48 L178.28,314.31 L178.26,314.11 L178.23,313.9 L178.18,313.69 L178.1,313.5 L177.99,313.33 L177.86,313.16 L177.7,312.99 L177.52,312.82 L177.32,312.66 L177.1,312.5 L176.86,312.35 L176.6,312.23 L176.31,312.1 L176,311.96 L175.67,311.8 L175.3,311.6 L174.88,311.36 L174.41,311.08 L173.92,310.78 L173.42,310.46 L172.94,310.13 L172.5,309.8 L172.11,309.48 L171.76,309.19 L171.42,308.88 L171.09,308.53 L170.75,308.11 L170.4,307.6 L170.02,306.97 L169.61,306.23 L169.19,305.43 L168.79,304.6 L168.42,303.77 L168.1,303 L167.82,302.22 L167.57,301.4 L167.36,300.59 L167.17,299.84 L167.02,299.21 L166.9,298.75 Z" fill="#dd9f66"/>
<path d="M196.9,273.7 L196.93,274.16 L196.99,274.77 L197.04,275.51 L197.1,276.33 L197.16,277.17 L197.2,278 L197.23,278.84 L197.26,279.71 L197.28,280.62 L197.29,281.55 L197.3,282.48 L197.3,283.4 L197.31,284.32 L197.32,285.25 L197.33,286.19 L197.32,287.11 L197.28,288.02 L197.2,288.9 L197.08,289.74 L196.94,290.56 L196.77,291.35 L196.56,292.13 L196.31,292.91 L196,293.7 L195.62,294.49 L195.18,295.27 L194.69,296.06 L194.18,296.84 L193.67,297.62 L193.2,298.4 L192.76,299.18 L192.34,299.96 L191.92,300.74 L191.5,301.53 L191.06,302.31 L190.6,303.1 L190.09,303.91 L189.54,304.73 L188.97,305.56 L188.43,306.37 L187.92,307.16 L187.5,307.9 L187.16,308.6 L186.87,309.27 L186.62,309.92 L186.42,310.54 L186.25,311.13 L186.1,311.7 L185.98,312.27 L185.91,312.84 L185.86,313.39 L185.84,313.88 L185.82,314.29 L185.8,314.6 L212.4,314.6 L212.38,314.29 L212.36,313.88 L212.34,313.39 L212.29,312.84 L212.22,312.27 L212.1,311.7 L211.95,311.13 L211.78,310.54 L211.57,309.92 L211.33,309.27 L211.04,308.6 L210.7,307.9 L210.28,307.16 L209.77,306.37 L209.22,305.56 L208.66,304.73 L208.11,303.91 L207.6,303.1 L207.14,302.31 L206.7,301.53 L206.28,300.74 L205.86,299.96 L205.44,299.18 L205,298.4 L204.53,297.62 L204.02,296.84 L203.51,296.06 L203.02,295.27 L202.58,294.49 L202.2,293.7 L201.89,292.91 L201.64,292.13 L201.43,291.35 L201.26,290.56 L201.12,289.74 L201,288.9 L200.92,288.02 L200.88,287.11 L200.87,286.19 L200.88,285.25 L200.89,284.32 L200.9,283.4 L200.9,282.48 L200.91,281.55 L200.92,280.62 L200.94,279.71 L200.97,278.84 L201,278 L201.04,277.17 L201.1,276.33 L201.16,275.51 L201.21,274.77 L201.27,274.16 L201.3,273.7 Z" fill="#c5521f"/>
<path d="M230.8,307.6 L230.65,307.76 L230.46,307.96 L230.23,308.21 L229.94,308.5 L229.6,308.83 L229.2,309.2 L228.69,309.64 L228.07,310.16 L227.39,310.71 L226.72,311.28 L226.1,311.82 L225.6,312.3 L225.21,312.74 L224.89,313.18 L224.62,313.59 L224.41,313.96 L224.24,314.27 L224.1,314.5 L240.5,314.5 L240.36,314.27 L240.19,313.96 L239.98,313.59 L239.71,313.18 L239.39,312.74 L239,312.3 L238.5,311.82 L237.88,311.28 L237.21,310.71 L236.53,310.16 L235.91,309.64 L235.4,309.2 L235,308.83 L234.66,308.5 L234.38,308.21 L234.14,307.96 L233.95,307.76 L233.8,307.6 Z" fill="#e1dcc3"/>
<path d="M262,298.4 L261.58,299.01 L261.01,299.87 L260.32,300.87 L259.59,301.96 L258.87,303.02 L258.2,304 L257.57,304.9 L256.91,305.8 L256.26,306.69 L255.64,307.56 L255.08,308.4 L254.6,309.2 L254.2,309.98 L253.86,310.76 L253.58,311.5 L253.35,312.19 L253.16,312.8 L253,313.3 L252.9,313.68 L252.85,313.96 L252.85,314.16 L252.87,314.3 L252.89,314.4 L252.9,314.5 L278.9,314.5 L278.91,314.4 L278.93,314.3 L278.95,314.16 L278.95,313.96 L278.9,313.68 L278.8,313.3 L278.64,312.8 L278.45,312.19 L278.22,311.5 L277.94,310.76 L277.6,309.98 L277.2,309.2 L276.72,308.4 L276.16,307.56 L275.54,306.69 L274.89,305.8 L274.23,304.9 L273.6,304 L272.93,303.02 L272.21,301.96 L271.47,300.87 L270.79,299.87 L270.22,299.01 L269.8,298.4 Z" fill="#ececec"/>
<path d="M296.5,273.1 L296.51,274.28 L296.54,275.96 L296.57,277.93 L296.58,279.96 L296.56,281.86 L296.5,283.4 L296.39,284.56 L296.25,285.51 L296.07,286.32 L295.87,287.06 L295.65,287.8 L295.4,288.6 L295.13,289.46 L294.84,290.31 L294.53,291.16 L294.18,292 L293.81,292.85 L293.4,293.7 L292.94,294.55 L292.42,295.4 L291.87,296.24 L291.31,297.09 L290.78,297.94 L290.3,298.8 L289.86,299.66 L289.45,300.53 L289.06,301.4 L288.69,302.27 L288.33,303.14 L288,304 L287.68,304.87 L287.37,305.74 L287.09,306.62 L286.83,307.48 L286.59,308.31 L286.4,309.1 L286.25,309.87 L286.13,310.64 L286.05,311.39 L285.99,312.08 L285.94,312.69 L285.9,313.2 L285.87,313.59 L285.86,313.89 L285.87,314.11 L285.88,314.27 L285.89,314.39 L285.9,314.5 L312.7,314.5 L312.71,314.39 L312.72,314.27 L312.73,314.11 L312.74,313.89 L312.73,313.59 L312.7,313.2 L312.66,312.69 L312.61,312.08 L312.55,311.39 L312.47,310.64 L312.35,309.87 L312.2,309.1 L312.01,308.31 L311.77,307.48 L311.51,306.62 L311.23,305.74 L310.92,304.87 L310.6,304 L310.27,303.14 L309.91,302.27 L309.54,301.4 L309.15,300.53 L308.74,299.66 L308.3,298.8 L307.82,297.94 L307.29,297.09 L306.73,296.24 L306.18,295.4 L305.66,294.55 L305.2,293.7 L304.79,292.85 L304.42,292 L304.07,291.16 L303.76,290.31 L303.47,289.46 L303.2,288.6 L302.95,287.8 L302.73,287.06 L302.53,286.32 L302.35,285.51 L302.21,284.56 L302.1,283.4 L302.04,281.86 L302.02,279.96 L302.03,277.93 L302.06,275.96 L302.09,274.28 L302.1,273.1 Z" fill="#c23a7a"/>
<line x1="51.35" x2="78.55" y1="302.3" y2="302.3" stroke="#262626" stroke-width="1.7"/>
<line x1="84.4" x2="111.6" y1="312.8" y2="312.8" stroke="#262626" stroke-width="1.7"/>
<line x1="151.5" x2="178.7" y1="312.8" y2="312.8" stroke="#262626" stroke-width="1.7"/>
<line x1="185.5" x2="212.7" y1="309.7" y2="309.7" stroke="#262626" stroke-width="1.7"/>
<line x1="252.3" x2="279.5" y1="310.2" y2="310.2" stroke="#262626" stroke-width="1.7"/>
<line x1="285.7" x2="312.9" y1="308.4" y2="308.4" stroke="#262626" stroke-width="1.7"/>
<path d="M66.1,270.8 L68.8,273.7 L66.1,276.6 L63.4,273.7 Z" fill="#000"/>
<path d="M67.9,295.8 L70.6,298.7 L67.9,301.6 L65.2,298.7 Z" fill="#000"/>
<path d="M62.5,305.5 L65.2,308.4 L62.5,311.3 L59.8,308.4 Z" fill="#000"/>
<path d="M66.6,310.1 L69.3,313 L66.6,315.9 L63.9,313 Z" fill="#000"/>
<path d="M99.6,304 L102.3,306.9 L99.6,309.8 L96.9,306.9 Z" fill="#000"/>
<path d="M96,305.8 L98.7,308.7 L96,311.6 L93.3,308.7 Z" fill="#000"/>
<path d="M96.5,309.4 L99.2,312.3 L96.5,315.2 L93.8,312.3 Z" fill="#000"/>
<path d="M167.6,295.5 L170.3,298.4 L167.6,301.3 L164.9,298.4 Z" fill="#000"/>
<path d="M166.1,304.7 L168.8,307.6 L166.1,310.5 L163.4,307.6 Z" fill="#000"/>
<path d="M164,308.9 L166.7,311.8 L164,314.7 L161.3,311.8 Z" fill="#000"/>
<path d="M199.3,270.8 L202,273.7 L199.3,276.6 L196.6,273.7 Z" fill="#000"/>
<path d="M197.5,304 L200.2,306.9 L197.5,309.8 L194.8,306.9 Z" fill="#000"/>
<path d="M200.6,305.8 L203.3,308.7 L200.6,311.6 L197.9,308.7 Z" fill="#000"/>
<path d="M195.4,310.4 L198.1,313.3 L195.4,316.2 L192.7,313.3 Z" fill="#000"/>
<path d="M200.6,310.9 L203.3,313.8 L200.6,316.7 L197.9,313.8 Z" fill="#000"/>
<path d="M232.3,305.2 L235,308.1 L232.3,311 L229.6,308.1 Z" fill="#000"/>
<path d="M267.3,295.8 L270,298.7 L267.3,301.6 L264.6,298.7 Z" fill="#000"/>
<path d="M263.5,304 L266.2,306.9 L263.5,309.8 L260.8,306.9 Z" fill="#000"/>
<path d="M263.5,310.4 L266.2,313.3 L263.5,316.2 L260.8,313.3 Z" fill="#000"/>
<path d="M299.5,270.8 L302.2,273.7 L299.5,276.6 L296.8,273.7 Z" fill="#000"/>
<path d="M299.5,308.8 L302.2,311.7 L299.5,314.6 L296.8,311.7 Z" fill="#000"/>
<path d="M297,310.3 L299.7,313.2 L297,316.1 L294.3,313.2 Z" fill="#000"/>
<path d="M130.3,314.3 L133,317.2 L130.3,320.1 L127.6,317.2 Z" fill="#000"/>
<path d="M133.4,314.1 L136.1,317 L133.4,319.9 L130.7,317 Z" fill="#000"/>
<path d="M233.1,313.3 L235.8,316.2 L233.1,319.1 L230.4,316.2 Z" fill="#000"/>
</g>
<g clip-path="url(#ccl)">
<path d="M52.4,322.6 L51.95,369.2 L77.35,369.2 L76.9,322.6 Z" fill="#0d5757"/>
<path d="M84.85,322.6 L84.87,326.87 L84.9,332.94 L84.93,340.05 L84.96,347.44 L85.01,354.34 L85.05,360 L85.1,364.3 L85.15,367.81 L85.2,370.85 L85.26,373.7 L85.33,376.65 L85.4,380 L85.49,384.02 L85.6,388.53 L85.72,393.15 L85.84,397.49 L85.93,401.17 L86,403.8 L110.4,403.8 L110.47,401.17 L110.56,397.49 L110.68,393.15 L110.8,388.53 L110.91,384.02 L111,380 L111.07,376.65 L111.14,373.7 L111.2,370.85 L111.25,367.81 L111.3,364.3 L111.35,360 L111.39,354.34 L111.44,347.44 L111.47,340.05 L111.5,332.94 L111.53,326.87 L111.55,322.6 Z" fill="#60b2a4"/>
<path d="M124.7,362 L124.4,362.69 L123.99,363.65 L123.49,364.78 L122.97,366.01 L122.46,367.24 L122,368.4 L121.58,369.5 L121.17,370.61 L120.76,371.73 L120.38,372.86 L120.02,373.98 L119.7,375.1 L119.42,376.2 L119.16,377.29 L118.93,378.37 L118.73,379.47 L118.55,380.61 L118.4,381.8 L118.26,383.06 L118.13,384.37 L118.03,385.72 L117.97,387.09 L117.95,388.45 L118,389.8 L118.12,391.13 L118.3,392.47 L118.54,393.8 L118.81,395.13 L119.1,396.47 L119.4,397.8 L119.73,399.16 L120.11,400.56 L120.51,401.96 L120.9,403.33 L121.28,404.62 L121.6,405.8 L121.85,406.88 L122.06,407.89 L122.23,408.82 L122.41,409.68 L122.62,410.47 L122.9,411.2 L123.28,411.86 L123.74,412.46 L124.23,412.99 L124.71,413.44 L125.11,413.81 L125.4,414.1 L137.4,414.1 L137.69,413.81 L138.09,413.44 L138.57,412.99 L139.06,412.46 L139.52,411.86 L139.9,411.2 L140.18,410.47 L140.39,409.68 L140.57,408.82 L140.74,407.89 L140.95,406.88 L141.2,405.8 L141.52,404.62 L141.9,403.33 L142.29,401.96 L142.69,400.56 L143.07,399.16 L143.4,397.8 L143.7,396.47 L143.99,395.13 L144.26,393.8 L144.5,392.47 L144.68,391.13 L144.8,389.8 L144.85,388.45 L144.83,387.09 L144.77,385.72 L144.67,384.37 L144.54,383.06 L144.4,381.8 L144.25,380.61 L144.07,379.47 L143.87,378.37 L143.64,377.29 L143.38,376.2 L143.1,375.1 L142.78,373.98 L142.42,372.86 L142.04,371.73 L141.63,370.61 L141.22,369.5 L140.8,368.4 L140.34,367.24 L139.83,366.01 L139.31,364.78 L138.81,363.65 L138.4,362.69 L138.1,362 Z" fill="#bbd5ad"/>
<path d="M152.2,322.6 L152.2,406.1 L177.9,406.1 L177.9,322.6 Z" fill="#dd9f66"/>
<path d="M185.5,322.6 L185.5,414.3 L211.9,414.3 L211.9,322.6 Z" fill="#c5521f"/>
<path d="M220.65,322.6 L220.53,326.75 L220.37,332.44 L220.18,339.2 L219.97,346.56 L219.77,354.05 L219.6,361.2 L219.44,368.63 L219.29,376.86 L219.13,385.21 L219,393.03 L218.88,399.65 L218.8,404.4 L245.2,404.4 L245.12,399.65 L245,393.03 L244.87,385.21 L244.71,376.86 L244.56,368.63 L244.4,361.2 L244.23,354.05 L244.03,346.56 L243.82,339.2 L243.63,332.44 L243.47,326.75 L243.35,322.6 Z" fill="#e1dcc3"/>
<path d="M253.7,322.6 L253.7,414.8 L277.9,414.8 L277.9,322.6 Z" fill="#ececec"/>
<path d="M285.9,322.6 L285.9,406.1 L312.5,406.1 L312.5,322.6 Z" fill="#c23a7a"/>
<line x1="51.15" x2="78.15" y1="369.2" y2="369.2" stroke="#117473" stroke-width="1.5"/>
<line x1="84.7" x2="111.7" y1="404.4" y2="404.4" stroke="#117473" stroke-width="1.5"/>
<line x1="117.9" x2="144.9" y1="415.2" y2="415.2" stroke="#117473" stroke-width="1.5"/>
<line x1="117.8" x2="145" y1="389.8" y2="389.8" stroke="#262626" stroke-width="1.7"/>
<line x1="151.55" x2="178.55" y1="406.5" y2="406.5" stroke="#117473" stroke-width="1.5"/>
<line x1="185.2" x2="212.2" y1="414.7" y2="414.7" stroke="#117473" stroke-width="1.5"/>
<line x1="218.5" x2="245.5" y1="404.8" y2="404.8" stroke="#117473" stroke-width="1.5"/>
<line x1="218.4" x2="245.6" y1="327.1" y2="327.1" stroke="#262626" stroke-width="1.7"/>
<line x1="252.3" x2="279.3" y1="415.2" y2="415.2" stroke="#117473" stroke-width="1.5"/>
<line x1="285.7" x2="312.7" y1="406.6" y2="406.6" stroke="#117473" stroke-width="1.5"/>
<path d="M65.1,366.3 L67.8,369.2 L65.1,372.1 L62.4,369.2 Z" fill="#000"/>
<path d="M97.4,324.5 L100.1,327.4 L97.4,330.3 L94.7,327.4 Z" fill="#000"/>
<path d="M100.1,376.1 L102.8,379 L100.1,381.9 L97.4,379 Z" fill="#000"/>
<path d="M94.8,401.5 L97.5,404.4 L94.8,407.3 L92.1,404.4 Z" fill="#000"/>
<path d="M130.5,359.1 L133.2,362 L130.5,364.9 L127.8,362 Z" fill="#000"/>
<path d="M130.7,376.4 L133.4,379.3 L130.7,382.2 L128,379.3 Z" fill="#000"/>
<path d="M134.1,383.5 L136.8,386.4 L134.1,389.3 L131.4,386.4 Z" fill="#000"/>
<path d="M133.1,385.5 L135.8,388.4 L133.1,391.3 L130.4,388.4 Z" fill="#000"/>
<path d="M130.7,403.2 L133.4,406.1 L130.7,409 L128,406.1 Z" fill="#000"/>
<path d="M130.1,412.3 L132.8,415.2 L130.1,418.1 L127.4,415.2 Z" fill="#000"/>
<path d="M164.5,366.1 L167.2,369 L164.5,371.9 L161.8,369 Z" fill="#000"/>
<path d="M167,383 L169.7,385.9 L167,388.8 L164.3,385.9 Z" fill="#000"/>
<path d="M166.6,385.5 L169.3,388.4 L166.6,391.3 L163.9,388.4 Z" fill="#000"/>
<path d="M165,401.5 L167.7,404.4 L165,407.3 L162.3,404.4 Z" fill="#000"/>
<path d="M167,403.6 L169.7,406.5 L167,409.4 L164.3,406.5 Z" fill="#000"/>
<path d="M196.4,324.4 L199.1,327.3 L196.4,330.2 L193.7,327.3 Z" fill="#000"/>
<path d="M198.1,359.3 L200.8,362.2 L198.1,365.1 L195.4,362.2 Z" fill="#000"/>
<path d="M197.5,375.8 L200.2,378.7 L197.5,381.6 L194.8,378.7 Z" fill="#000"/>
<path d="M200.6,376.8 L203.3,379.7 L200.6,382.6 L197.9,379.7 Z" fill="#000"/>
<path d="M198.5,412.2 L201.2,415.1 L198.5,418 L195.8,415.1 Z" fill="#000"/>
<path d="M230.8,359.4 L233.5,362.3 L230.8,365.2 L228.1,362.3 Z" fill="#000"/>
<path d="M230.4,376 L233.1,378.9 L230.4,381.8 L227.7,378.9 Z" fill="#000"/>
<path d="M231.4,385.3 L234.1,388.2 L231.4,391.1 L228.7,388.2 Z" fill="#000"/>
<path d="M234.7,401.9 L237.4,404.8 L234.7,407.7 L232,404.8 Z" fill="#000"/>
<path d="M268.2,383.6 L270.9,386.5 L268.2,389.4 L265.5,386.5 Z" fill="#000"/>
<path d="M265.4,412.3 L268.1,415.2 L265.4,418.1 L262.7,415.2 Z" fill="#000"/>
<path d="M295.8,324.2 L298.5,327.1 L295.8,330 L293.1,327.1 Z" fill="#000"/>
<path d="M300.6,366.3 L303.3,369.2 L300.6,372.1 L297.9,369.2 Z" fill="#000"/>
<path d="M298,376.7 L300.7,379.6 L298,382.5 L295.3,379.6 Z" fill="#000"/>
<path d="M298.8,403.7 L301.5,406.6 L298.8,409.5 L296.1,406.6 Z" fill="#000"/>
</g>
<g clip-path="url(#cdu)">
<path d="M415.3,298.1 L414.99,298.34 L414.56,298.67 L414.04,299.07 L413.5,299.49 L412.97,299.91 L412.5,300.3 L412.06,300.63 L411.61,300.93 L411.18,301.23 L410.78,301.56 L410.44,301.94 L410.2,302.4 L410.07,303.02 L410.03,303.77 L410.06,304.58 L410.11,305.36 L410.17,306.03 L410.2,306.5 L436.8,306.5 L436.83,306.03 L436.89,305.36 L436.94,304.58 L436.97,303.77 L436.93,303.02 L436.8,302.4 L436.56,301.94 L436.22,301.56 L435.82,301.23 L435.39,300.93 L434.94,300.63 L434.5,300.3 L434.03,299.91 L433.5,299.49 L432.96,299.07 L432.44,298.67 L432.01,298.34 L431.7,298.1 Z" fill="#0d5757"/>
<path d="M450.05,298.8 L450.12,299.17 L450.28,299.7 L450.44,300.31 L450.51,300.94 L450.41,301.49 L450.05,301.9 L449.3,302.11 L448.2,302.18 L446.93,302.17 L445.65,302.18 L444.55,302.26 L443.8,302.5 L443.44,302.96 L443.34,303.58 L443.41,304.29 L443.57,304.99 L443.73,305.59 L443.8,306 L470.4,306 L470.47,305.59 L470.63,304.99 L470.79,304.29 L470.86,303.58 L470.76,302.96 L470.4,302.5 L469.65,302.26 L468.55,302.18 L467.28,302.17 L466,302.18 L464.9,302.11 L464.15,301.9 L463.79,301.49 L463.69,300.94 L463.76,300.31 L463.92,299.7 L464.08,299.17 L464.15,298.8 Z" fill="#60b2a4"/>
<path d="M488.3,293.7 L488.25,294.25 L488.19,295.02 L488.12,295.93 L488.02,296.9 L487.88,297.89 L487.7,298.8 L487.49,299.66 L487.27,300.53 L487.02,301.4 L486.7,302.27 L486.31,303.14 L485.8,304 L485.14,304.87 L484.32,305.74 L483.43,306.62 L482.51,307.48 L481.65,308.31 L480.9,309.1 L480.25,309.87 L479.63,310.64 L479.06,311.39 L478.56,312.08 L478.13,312.69 L477.8,313.2 L477.58,313.59 L477.48,313.89 L477.46,314.11 L477.47,314.27 L477.5,314.39 L477.5,314.5 L503.9,314.5 L503.9,314.39 L503.93,314.27 L503.94,314.11 L503.92,313.89 L503.82,313.59 L503.6,313.2 L503.27,312.69 L502.84,312.08 L502.34,311.39 L501.77,310.64 L501.15,309.87 L500.5,309.1 L499.75,308.31 L498.89,307.48 L497.97,306.62 L497.08,305.74 L496.26,304.87 L495.6,304 L495.09,303.14 L494.7,302.27 L494.38,301.4 L494.13,300.53 L493.91,299.66 L493.7,298.8 L493.52,297.89 L493.38,296.9 L493.28,295.93 L493.21,295.02 L493.15,294.25 L493.1,293.7 Z" fill="#bbd5ad"/>
<path d="M515.8,298.9 L515.66,298.94 L515.48,298.99 L515.26,299.04 L515,299.14 L514.68,299.28 L514.3,299.5 L513.8,299.79 L513.18,300.13 L512.51,300.53 L511.85,300.98 L511.29,301.47 L510.9,302 L510.67,302.6 L510.53,303.29 L510.49,304.01 L510.54,304.75 L510.68,305.46 L510.9,306.1 L511.26,306.66 L511.78,307.17 L512.39,307.65 L513.01,308.13 L513.57,308.64 L514,309.2 L514.3,309.86 L514.52,310.6 L514.69,311.37 L514.81,312.11 L514.91,312.77 L515,313.3 L515.07,313.68 L515.1,313.96 L515.11,314.16 L515.11,314.3 L515.1,314.4 L515.1,314.5 L533.5,314.5 L533.5,314.4 L533.49,314.3 L533.49,314.16 L533.5,313.96 L533.53,313.68 L533.6,313.3 L533.69,312.77 L533.79,312.11 L533.91,311.37 L534.08,310.6 L534.3,309.86 L534.6,309.2 L535.03,308.64 L535.59,308.13 L536.21,307.65 L536.82,307.17 L537.34,306.66 L537.7,306.1 L537.92,305.46 L538.06,304.75 L538.11,304.01 L538.07,303.29 L537.93,302.6 L537.7,302 L537.31,301.47 L536.75,300.98 L536.09,300.53 L535.42,300.13 L534.8,299.79 L534.3,299.5 L533.92,299.28 L533.6,299.14 L533.34,299.04 L533.12,298.99 L532.94,298.94 L532.8,298.9 Z" fill="#dd9f66"/>
<path d="M552.3,294.3 L551.9,294.69 L551.34,295.21 L550.67,295.84 L549.97,296.53 L549.3,297.23 L548.7,297.9 L548.16,298.56 L547.63,299.25 L547.12,299.95 L546.66,300.65 L546.24,301.34 L545.9,302 L545.62,302.63 L545.38,303.24 L545.19,303.83 L545.08,304.42 L545.04,305.01 L545.1,305.6 L545.27,306.19 L545.56,306.78 L545.92,307.37 L546.34,307.96 L546.78,308.57 L547.2,309.2 L547.65,309.89 L548.17,310.64 L548.7,311.4 L549.21,312.13 L549.66,312.78 L550,313.3 L550.22,313.68 L550.36,313.96 L550.42,314.16 L550.46,314.3 L550.47,314.4 L550.5,314.5 L566.5,314.5 L566.53,314.4 L566.54,314.3 L566.58,314.16 L566.64,313.96 L566.78,313.68 L567,313.3 L567.34,312.78 L567.79,312.13 L568.3,311.4 L568.83,310.64 L569.35,309.89 L569.8,309.2 L570.22,308.57 L570.66,307.96 L571.08,307.37 L571.44,306.78 L571.73,306.19 L571.9,305.6 L571.96,305.01 L571.92,304.42 L571.81,303.83 L571.62,303.24 L571.38,302.63 L571.1,302 L570.76,301.34 L570.34,300.65 L569.88,299.95 L569.37,299.25 L568.84,298.56 L568.3,297.9 L567.7,297.23 L567.03,296.53 L566.33,295.84 L565.66,295.21 L565.1,294.69 L564.7,294.3 Z" fill="#c5521f"/>
<path d="M578.4,298.2 L578.31,298.25 L578.18,298.29 L578.02,298.35 L577.87,298.47 L577.74,298.67 L577.65,299 L577.57,299.47 L577.49,300.06 L577.42,300.73 L577.41,301.47 L577.48,302.23 L577.65,303 L577.97,303.78 L578.44,304.6 L578.98,305.44 L579.54,306.31 L580.06,307.2 L580.5,308.1 L580.86,309.07 L581.19,310.14 L581.48,311.23 L581.73,312.25 L581.94,313.13 L582.1,313.8 L582.19,314.21 L582.22,314.43 L582.2,314.51 L582.16,314.5 L582.12,314.48 L582.1,314.5 L599.7,314.5 L599.68,314.48 L599.64,314.5 L599.6,314.51 L599.58,314.43 L599.61,314.21 L599.7,313.8 L599.86,313.13 L600.07,312.25 L600.32,311.23 L600.61,310.14 L600.94,309.07 L601.3,308.1 L601.74,307.2 L602.26,306.31 L602.82,305.44 L603.36,304.6 L603.83,303.78 L604.15,303 L604.32,302.23 L604.39,301.47 L604.38,300.73 L604.31,300.06 L604.23,299.47 L604.15,299 L604.06,298.67 L603.93,298.47 L603.77,298.35 L603.62,298.29 L603.49,298.25 L603.4,298.2 Z" fill="#e1dcc3"/>
<path d="M612.5,302.5 L612.35,302.59 L612.13,302.7 L611.88,302.84 L611.62,303.02 L611.4,303.23 L611.25,303.5 L611.15,303.82 L611.07,304.2 L611.02,304.62 L611.02,305.07 L611.09,305.54 L611.25,306 L611.51,306.45 L611.86,306.9 L612.27,307.36 L612.74,307.85 L613.22,308.39 L613.7,309 L614.23,309.74 L614.83,310.62 L615.45,311.54 L616.04,312.44 L616.54,313.22 L616.9,313.8 L617.1,314.16 L617.17,314.36 L617.15,314.45 L617.09,314.47 L617.02,314.47 L617,314.5 L632,314.5 L631.98,314.47 L631.91,314.47 L631.85,314.45 L631.83,314.36 L631.9,314.16 L632.1,313.8 L632.46,313.22 L632.96,312.44 L633.55,311.54 L634.17,310.62 L634.77,309.74 L635.3,309 L635.78,308.39 L636.26,307.85 L636.73,307.36 L637.14,306.9 L637.49,306.45 L637.75,306 L637.91,305.54 L637.98,305.07 L637.98,304.62 L637.93,304.2 L637.85,303.82 L637.75,303.5 L637.6,303.23 L637.38,303.02 L637.12,302.84 L636.87,302.7 L636.65,302.59 L636.5,302.5 Z" fill="#ececec"/>
<path d="M653.1,293.7 L652.9,294.05 L652.63,294.53 L652.3,295.1 L651.93,295.71 L651.53,296.33 L651.1,296.9 L650.63,297.41 L650.1,297.91 L649.53,298.4 L648.96,298.91 L648.41,299.47 L647.9,300.1 L647.41,300.8 L646.92,301.55 L646.45,302.34 L646.02,303.17 L645.66,304.03 L645.4,304.9 L645.24,305.85 L645.16,306.89 L645.16,307.95 L645.2,308.97 L645.29,309.88 L645.4,310.6 L645.57,311.12 L645.81,311.5 L646.1,311.76 L646.39,311.94 L646.63,312.07 L646.8,312.2 L669.8,312.2 L669.97,312.07 L670.21,311.94 L670.5,311.76 L670.79,311.5 L671.03,311.12 L671.2,310.6 L671.31,309.88 L671.4,308.97 L671.44,307.95 L671.44,306.89 L671.36,305.85 L671.2,304.9 L670.94,304.03 L670.58,303.17 L670.15,302.34 L669.68,301.55 L669.19,300.8 L668.7,300.1 L668.19,299.47 L667.64,298.91 L667.07,298.4 L666.5,297.91 L665.97,297.41 L665.5,296.9 L665.07,296.33 L664.67,295.71 L664.3,295.1 L663.97,294.53 L663.7,294.05 L663.5,293.7 Z" fill="#c23a7a"/>
<line x1="410" x2="437" y1="307" y2="307" stroke="#117473" stroke-width="1.5"/>
<line x1="409.9" x2="437.1" y1="303.6" y2="303.6" stroke="#262626" stroke-width="1.7"/>
<line x1="443.6" x2="470.6" y1="307" y2="307" stroke="#117473" stroke-width="1.5"/>
<line x1="443.5" x2="470.7" y1="303.9" y2="303.9" stroke="#262626" stroke-width="1.7"/>
<line x1="477.1" x2="504.3" y1="312.4" y2="312.4" stroke="#262626" stroke-width="1.7"/>
<line x1="510.7" x2="537.9" y1="307.3" y2="307.3" stroke="#262626" stroke-width="1.7"/>
<line x1="544.9" x2="572.1" y1="305.9" y2="305.9" stroke="#262626" stroke-width="1.7"/>
<line x1="577.3" x2="604.5" y1="305.7" y2="305.7" stroke="#262626" stroke-width="1.7"/>
<line x1="610.9" x2="638.1" y1="308.5" y2="308.5" stroke="#262626" stroke-width="1.7"/>
<line x1="644.8" x2="671.8" y1="313.8" y2="313.8" stroke="#117473" stroke-width="1.5"/>
<line x1="644.7" x2="671.9" y1="304.6" y2="304.6" stroke="#262626" stroke-width="1.7"/>
<path d="M421.4,294.4 L424.1,297.3 L421.4,300.2 L418.7,297.3 Z" fill="#000"/>
<path d="M422.9,298.5 L425.6,301.4 L422.9,304.3 L420.2,301.4 Z" fill="#000"/>
<path d="M427,300 L429.7,302.9 L427,305.8 L424.3,302.9 Z" fill="#000"/>
<path d="M422.9,302 L425.6,304.9 L422.9,307.8 L420.2,304.9 Z" fill="#000"/>
<path d="M420.8,305.6 L423.5,308.5 L420.8,311.4 L418.1,308.5 Z" fill="#000"/>
<path d="M453.8,295.9 L456.5,298.8 L453.8,301.7 L451.1,298.8 Z" fill="#000"/>
<path d="M459.2,295.4 L461.9,298.3 L459.2,301.2 L456.5,298.3 Z" fill="#000"/>
<path d="M455.1,302 L457.8,304.9 L455.1,307.8 L452.4,304.9 Z" fill="#000"/>
<path d="M456.6,303.6 L459.3,306.5 L456.6,309.4 L453.9,306.5 Z" fill="#000"/>
<path d="M454,304.6 L456.7,307.5 L454,310.4 L451.3,307.5 Z" fill="#000"/>
<path d="M489.3,290.8 L492,293.7 L489.3,296.6 L486.6,293.7 Z" fill="#000"/>
<path d="M488.5,310.3 L491.2,313.2 L488.5,316.1 L485.8,313.2 Z" fill="#000"/>
<path d="M525.1,295.5 L527.8,298.4 L525.1,301.3 L522.4,298.4 Z" fill="#000"/>
<path d="M525.1,298.1 L527.8,301 L525.1,303.9 L522.4,301 Z" fill="#000"/>
<path d="M524.6,300.1 L527.3,303 L524.6,305.9 L521.9,303 Z" fill="#000"/>
<path d="M524,303.2 L526.7,306.1 L524,309 L521.3,306.1 Z" fill="#000"/>
<path d="M526.1,302.7 L528.8,305.6 L526.1,308.5 L523.4,305.6 Z" fill="#000"/>
<path d="M523,310.4 L525.7,313.3 L523,316.2 L520.3,313.3 Z" fill="#000"/>
<path d="M556.5,290.6 L559.2,293.5 L556.5,296.4 L553.8,293.5 Z" fill="#000"/>
<path d="M556.5,294.4 L559.2,297.3 L556.5,300.2 L553.8,297.3 Z" fill="#000"/>
<path d="M559.6,295.5 L562.3,298.4 L559.6,301.3 L556.9,298.4 Z" fill="#000"/>
<path d="M554.4,301.1 L557.1,304 L554.4,306.9 L551.7,304 Z" fill="#000"/>
<path d="M554.9,304.2 L557.6,307.1 L554.9,310 L552.2,307.1 Z" fill="#000"/>
<path d="M558.5,303.7 L561.2,306.6 L558.5,309.5 L555.8,306.6 Z" fill="#000"/>
<path d="M588.9,294.8 L591.6,297.7 L588.9,300.6 L586.2,297.7 Z" fill="#000"/>
<path d="M591.6,295.3 L594.3,298.2 L591.6,301.1 L588.9,298.2 Z" fill="#000"/>
<path d="M592.6,302.8 L595.3,305.7 L592.6,308.6 L589.9,305.7 Z" fill="#000"/>
<path d="M590.5,311.7 L593.2,314.6 L590.5,317.5 L587.8,314.6 Z" fill="#000"/>
<path d="M623.4,299.6 L626.1,302.5 L623.4,305.4 L620.7,302.5 Z" fill="#000"/>
<path d="M622.6,302.8 L625.3,305.7 L622.6,308.6 L619.9,305.7 Z" fill="#000"/>
<path d="M626.6,311.7 L629.3,314.6 L626.6,317.5 L623.9,314.6 Z" fill="#000"/>
<path d="M655.8,290.5 L658.5,293.4 L655.8,296.3 L653.1,293.4 Z" fill="#000"/>
<path d="M660,297.7 L662.7,300.6 L660,303.5 L657.3,300.6 Z" fill="#000"/>
<path d="M656.3,303.6 L659,306.5 L656.3,309.4 L653.6,306.5 Z" fill="#000"/>
<path d="M660,304.1 L662.7,307 L660,309.9 L657.3,307 Z" fill="#000"/>
<path d="M658.7,310.5 L661.4,313.4 L658.7,316.3 L656,313.4 Z" fill="#000"/>
</g>
<g clip-path="url(#cdl)">
<path d="M477.1,322.6 L477.3,439.2 L503.5,439.2 L503.7,322.6 Z" fill="#bbd5ad"/>
<path d="M515.05,322.6 L515.05,332.5 L532.95,332.5 L532.95,322.6 Z" fill="#dd9f66"/>
<path d="M550.1,322.6 L550.8,438.4 L564.2,438.4 L564.9,322.6 Z" fill="#c5521f"/>
<path d="M582.85,322.6 L582.85,438.4 L598.75,438.4 L598.75,322.6 Z" fill="#e1dcc3"/>
<path d="M617.5,322.6 L617.5,435.1 L631.5,435.1 L631.5,322.6 Z" fill="#ececec"/>
<line x1="476.9" x2="503.9" y1="439.3" y2="439.3" stroke="#117473" stroke-width="1.5"/>
<line x1="510.5" x2="537.5" y1="333.3" y2="333.3" stroke="#117473" stroke-width="1.5"/>
<line x1="544" x2="571" y1="439.2" y2="439.2" stroke="#117473" stroke-width="1.5"/>
<line x1="577.3" x2="604.3" y1="439" y2="439" stroke="#117473" stroke-width="1.5"/>
<line x1="611" x2="638" y1="436.4" y2="436.4" stroke="#117473" stroke-width="1.5"/>
<path d="M492.4,324.4 L495.1,327.3 L492.4,330.2 L489.7,327.3 Z" fill="#000"/>
<path d="M489.5,330.6 L492.2,333.5 L489.5,336.4 L486.8,333.5 Z" fill="#000"/>
<path d="M487.5,433.5 L490.2,436.4 L487.5,439.3 L484.8,436.4 Z" fill="#000"/>
<path d="M489.7,436 L492.4,438.9 L489.7,441.8 L487,438.9 Z" fill="#000"/>
<path d="M526.7,324.4 L529.4,327.3 L526.7,330.2 L524,327.3 Z" fill="#000"/>
<path d="M527.2,330.6 L529.9,333.5 L527.2,336.4 L524.5,333.5 Z" fill="#000"/>
<path d="M558.3,433.5 L561,436.4 L558.3,439.3 L555.6,436.4 Z" fill="#000"/>
<path d="M557.3,436.4 L560,439.3 L557.3,442.2 L554.6,439.3 Z" fill="#000"/>
<path d="M587.8,330.5 L590.5,333.4 L587.8,336.3 L585.1,333.4 Z" fill="#000"/>
<path d="M591.6,436.1 L594.3,439 L591.6,441.9 L588.9,439 Z" fill="#000"/>
<path d="M625.1,324.6 L627.8,327.5 L625.1,330.4 L622.4,327.5 Z" fill="#000"/>
<path d="M623.8,433.5 L626.5,436.4 L623.8,439.3 L621.1,436.4 Z" fill="#000"/>
</g>
<line x1="148.4" x2="148.4" y1="64.8" y2="22.2" stroke="#6e6e6e" stroke-width="1.3" stroke-dasharray="5 2.653" stroke-dashoffset="0.4"/>
<line x1="148.4" x2="148.4" y1="200.8" y2="73.4" stroke="#6e6e6e" stroke-width="1.3" stroke-dasharray="5 2.653" stroke-dashoffset="0"/>
<line x1="215.3" x2="215.3" y1="64.8" y2="22.2" stroke="#6e6e6e" stroke-width="1.3" stroke-dasharray="5 2.653" stroke-dashoffset="0.4"/>
<line x1="215.3" x2="215.3" y1="200.8" y2="73.4" stroke="#6e6e6e" stroke-width="1.3" stroke-dasharray="5 2.653" stroke-dashoffset="0"/>
<line x1="64.75" x2="64.75" y1="200.8" y2="206.7" stroke="#333" stroke-width="1.15"/>
<line x1="98.2" x2="98.2" y1="200.8" y2="206.7" stroke="#333" stroke-width="1.15"/>
<line x1="131.65" x2="131.65" y1="200.8" y2="206.7" stroke="#333" stroke-width="1.15"/>
<line x1="165.1" x2="165.1" y1="200.8" y2="206.7" stroke="#333" stroke-width="1.15"/>
<line x1="198.55" x2="198.55" y1="200.8" y2="206.7" stroke="#333" stroke-width="1.15"/>
<line x1="232" x2="232" y1="200.8" y2="206.7" stroke="#333" stroke-width="1.15"/>
<line x1="265.45" x2="265.45" y1="200.8" y2="206.7" stroke="#333" stroke-width="1.15"/>
<line x1="298.9" x2="298.9" y1="200.8" y2="206.7" stroke="#333" stroke-width="1.15"/>
<text x="28.5" y="38.85" text-anchor="end" font-size="10.4" fill="#262626">50</text>
<text x="28.5" y="58.95" text-anchor="end" font-size="10.4" fill="#262626">25</text>
<text x="28.5" y="77.1" text-anchor="end" font-size="10.4" fill="#262626">12</text>
<text x="28.5" y="105.5" text-anchor="end" font-size="10.4" fill="#262626">11</text>
<text x="28.5" y="133.95" text-anchor="end" font-size="10.4" fill="#262626">10</text>
<text x="28.5" y="162.35" text-anchor="end" font-size="10.4" fill="#262626">9</text>
<text x="28.5" y="190.65" text-anchor="end" font-size="10.4" fill="#262626">8</text>
<text x="64.75" y="218.9" text-anchor="middle" font-size="10.4" fill="#262626">300</text>
<text x="98.2" y="218.9" text-anchor="middle" font-size="10.4" fill="#262626">400</text>
<text x="131.65" y="218.9" text-anchor="middle" font-size="10.4" fill="#262626">Solimp.</text>
<text x="165.1" y="218.9" text-anchor="middle" font-size="10.4" fill="#262626">m-Si</text>
<text x="198.55" y="218.9" text-anchor="middle" font-size="10.4" fill="#262626">p-Si</text>
<text x="232" y="218.9" text-anchor="middle" font-size="10.4" fill="#262626">FPC</text>
<text x="265.45" y="218.9" text-anchor="middle" font-size="10.4" fill="#262626">Aug.</text>
<text x="298.9" y="218.9" text-anchor="middle" font-size="10.4" fill="#262626">Euro.</text>
<text x="182" y="234" text-anchor="middle" font-size="11.5" fill="#262626">Technology type specified</text>
<text transform="translate(11.3,111.6) rotate(-90)" text-anchor="middle" font-size="10.85" fill="#262626">Specific cost / USDm<tspan font-size="7.4" dy="-4.2">-3</tspan></text>
<text x="182" y="15.4" text-anchor="middle" font-size="11.5" font-weight="bold" fill="#1a1a1a">Abu Dhabi, UAE</text>
<text x="-1.3" y="14.1" font-size="20" font-weight="bold" fill="#1a1a1a">a.</text>
<text x="97.2" y="32.3" text-anchor="middle" font-size="10.8" fill="#111" stroke="#111" stroke-width="0.25">PV-T</text>
<text x="180.9" y="32.3" text-anchor="middle" font-size="10.8" fill="#111" stroke="#111" stroke-width="0.25">PV</text>
<text x="267.8" y="32.3" text-anchor="middle" font-size="10.8" fill="#111" stroke="#111" stroke-width="0.25">Solar-thermal</text>
<line x1="507.4" x2="507.4" y1="64.8" y2="22.2" stroke="#6e6e6e" stroke-width="1.3" stroke-dasharray="5 2.653" stroke-dashoffset="0.4"/>
<line x1="507.4" x2="507.4" y1="200.8" y2="73.4" stroke="#6e6e6e" stroke-width="1.3" stroke-dasharray="5 2.653" stroke-dashoffset="0"/>
<line x1="574.3" x2="574.3" y1="64.8" y2="22.2" stroke="#6e6e6e" stroke-width="1.3" stroke-dasharray="5 2.653" stroke-dashoffset="0.4"/>
<line x1="574.3" x2="574.3" y1="200.8" y2="73.4" stroke="#6e6e6e" stroke-width="1.3" stroke-dasharray="5 2.653" stroke-dashoffset="0"/>
<line x1="423.75" x2="423.75" y1="200.8" y2="206.7" stroke="#333" stroke-width="1.15"/>
<line x1="457.2" x2="457.2" y1="200.8" y2="206.7" stroke="#333" stroke-width="1.15"/>
<line x1="490.65" x2="490.65" y1="200.8" y2="206.7" stroke="#333" stroke-width="1.15"/>
<line x1="524.1" x2="524.1" y1="200.8" y2="206.7" stroke="#333" stroke-width="1.15"/>
<line x1="557.55" x2="557.55" y1="200.8" y2="206.7" stroke="#333" stroke-width="1.15"/>
<line x1="591" x2="591" y1="200.8" y2="206.7" stroke="#333" stroke-width="1.15"/>
<line x1="624.45" x2="624.45" y1="200.8" y2="206.7" stroke="#333" stroke-width="1.15"/>
<line x1="657.9" x2="657.9" y1="200.8" y2="206.7" stroke="#333" stroke-width="1.15"/>
<text x="387.5" y="38.85" text-anchor="end" font-size="10.4" fill="#262626">50</text>
<text x="387.5" y="58.95" text-anchor="end" font-size="10.4" fill="#262626">25</text>
<text x="387.5" y="77.1" text-anchor="end" font-size="10.4" fill="#262626">12</text>
<text x="387.5" y="105.5" text-anchor="end" font-size="10.4" fill="#262626">11</text>
<text x="387.5" y="133.95" text-anchor="end" font-size="10.4" fill="#262626">10</text>
<text x="387.5" y="162.35" text-anchor="end" font-size="10.4" fill="#262626">9</text>
<text x="387.5" y="190.65" text-anchor="end" font-size="10.4" fill="#262626">8</text>
<text x="423.75" y="218.9" text-anchor="middle" font-size="10.4" fill="#262626">300</text>
<text x="457.2" y="218.9" text-anchor="middle" font-size="10.4" fill="#262626">400</text>
<text x="490.65" y="218.9" text-anchor="middle" font-size="10.4" fill="#262626">Solimp.</text>
<text x="524.1" y="218.9" text-anchor="middle" font-size="10.4" fill="#262626">m-Si</text>
<text x="557.55" y="218.9" text-anchor="middle" font-size="10.4" fill="#262626">p-Si</text>
<text x="591" y="218.9" text-anchor="middle" font-size="10.4" fill="#262626">FPC</text>
<text x="624.45" y="218.9" text-anchor="middle" font-size="10.4" fill="#262626">Aug.</text>
<text x="657.9" y="218.9" text-anchor="middle" font-size="10.4" fill="#262626">Euro.</text>
<text x="541" y="234" text-anchor="middle" font-size="11.5" fill="#262626">Technology type specified</text>
<text transform="translate(366.8,111.6) rotate(-90)" text-anchor="middle" font-size="10.85" fill="#262626">Specific cost / USDm<tspan font-size="7.4" dy="-4.2">-3</tspan></text>
<text x="541" y="15.4" text-anchor="middle" font-size="11.5" font-weight="bold" fill="#1a1a1a">Gando, Gran Canaria</text>
<text x="357.7" y="14.1" font-size="20" font-weight="bold" fill="#1a1a1a">b.</text>
<text x="455.6" y="32.3" text-anchor="middle" font-size="10.8" fill="#111" stroke="#111" stroke-width="0.25">PV-T</text>
<text x="539.3" y="32.3" text-anchor="middle" font-size="10.8" fill="#111" stroke="#111" stroke-width="0.25">PV</text>
<text x="626.2" y="32.3" text-anchor="middle" font-size="10.8" fill="#111" stroke="#111" stroke-width="0.25">Solar-thermal</text>
<line x1="148.4" x2="148.4" y1="314.4" y2="271.8" stroke="#6e6e6e" stroke-width="1.3" stroke-dasharray="5 2.653" stroke-dashoffset="0.4"/>
<line x1="148.4" x2="148.4" y1="450.4" y2="323" stroke="#6e6e6e" stroke-width="1.3" stroke-dasharray="5 2.653" stroke-dashoffset="0"/>
<line x1="215.3" x2="215.3" y1="314.4" y2="271.8" stroke="#6e6e6e" stroke-width="1.3" stroke-dasharray="5 2.653" stroke-dashoffset="0.4"/>
<line x1="215.3" x2="215.3" y1="450.4" y2="323" stroke="#6e6e6e" stroke-width="1.3" stroke-dasharray="5 2.653" stroke-dashoffset="0"/>
<line x1="64.75" x2="64.75" y1="450.4" y2="456.3" stroke="#333" stroke-width="1.15"/>
<line x1="98.2" x2="98.2" y1="450.4" y2="456.3" stroke="#333" stroke-width="1.15"/>
<line x1="131.65" x2="131.65" y1="450.4" y2="456.3" stroke="#333" stroke-width="1.15"/>
<line x1="165.1" x2="165.1" y1="450.4" y2="456.3" stroke="#333" stroke-width="1.15"/>
<line x1="198.55" x2="198.55" y1="450.4" y2="456.3" stroke="#333" stroke-width="1.15"/>
<line x1="232" x2="232" y1="450.4" y2="456.3" stroke="#333" stroke-width="1.15"/>
<line x1="265.45" x2="265.45" y1="450.4" y2="456.3" stroke="#333" stroke-width="1.15"/>
<line x1="298.9" x2="298.9" y1="450.4" y2="456.3" stroke="#333" stroke-width="1.15"/>
<text x="28.5" y="288.45" text-anchor="end" font-size="10.4" fill="#262626">50</text>
<text x="28.5" y="308.55" text-anchor="end" font-size="10.4" fill="#262626">25</text>
<text x="28.5" y="326.7" text-anchor="end" font-size="10.4" fill="#262626">12</text>
<text x="28.5" y="355.1" text-anchor="end" font-size="10.4" fill="#262626">11</text>
<text x="28.5" y="383.55" text-anchor="end" font-size="10.4" fill="#262626">10</text>
<text x="28.5" y="411.95" text-anchor="end" font-size="10.4" fill="#262626">9</text>
<text x="28.5" y="440.25" text-anchor="end" font-size="10.4" fill="#262626">8</text>
<text x="64.75" y="468.5" text-anchor="middle" font-size="10.4" fill="#262626">300</text>
<text x="98.2" y="468.5" text-anchor="middle" font-size="10.4" fill="#262626">400</text>
<text x="131.65" y="468.5" text-anchor="middle" font-size="10.4" fill="#262626">Solimp.</text>
<text x="165.1" y="468.5" text-anchor="middle" font-size="10.4" fill="#262626">m-Si</text>
<text x="198.55" y="468.5" text-anchor="middle" font-size="10.4" fill="#262626">p-Si</text>
<text x="232" y="468.5" text-anchor="middle" font-size="10.4" fill="#262626">FPC</text>
<text x="265.45" y="468.5" text-anchor="middle" font-size="10.4" fill="#262626">Aug.</text>
<text x="298.9" y="468.5" text-anchor="middle" font-size="10.4" fill="#262626">Euro.</text>
<text x="182" y="483.6" text-anchor="middle" font-size="11.5" fill="#262626">Technology type specified</text>
<text transform="translate(11.3,362) rotate(-90)" text-anchor="middle" font-size="10.85" fill="#262626">Specific cost / USDm<tspan font-size="7.4" dy="-4.2">-3</tspan></text>
<text x="182" y="265" text-anchor="middle" font-size="11.5" font-weight="bold" fill="#1a1a1a">Tijuana, Mexico</text>
<text x="-1.3" y="263.7" font-size="20" font-weight="bold" fill="#1a1a1a">c.</text>
<text x="98.4" y="281.9" text-anchor="middle" font-size="10.8" fill="#111" stroke="#111" stroke-width="0.45">PV-T</text>
<text x="175" y="281.9" text-anchor="middle" font-size="10.8" fill="#111" stroke="#111" stroke-width="0.45">PV</text>
<text x="256.8" y="281.9" text-anchor="middle" font-size="10.8" fill="#111" stroke="#111" stroke-width="0.45">Solar-thermal</text>
<line x1="507.4" x2="507.4" y1="314.4" y2="271.8" stroke="#6e6e6e" stroke-width="1.3" stroke-dasharray="5 2.653" stroke-dashoffset="0.4"/>
<line x1="507.4" x2="507.4" y1="450.4" y2="323" stroke="#6e6e6e" stroke-width="1.3" stroke-dasharray="5 2.653" stroke-dashoffset="0"/>
<line x1="574.3" x2="574.3" y1="314.4" y2="271.8" stroke="#6e6e6e" stroke-width="1.3" stroke-dasharray="5 2.653" stroke-dashoffset="0.4"/>
<line x1="574.3" x2="574.3" y1="450.4" y2="323" stroke="#6e6e6e" stroke-width="1.3" stroke-dasharray="5 2.653" stroke-dashoffset="0"/>
<line x1="423.75" x2="423.75" y1="450.4" y2="456.3" stroke="#333" stroke-width="1.15"/>
<line x1="457.2" x2="457.2" y1="450.4" y2="456.3" stroke="#333" stroke-width="1.15"/>
<line x1="490.65" x2="490.65" y1="450.4" y2="456.3" stroke="#333" stroke-width="1.15"/>
<line x1="524.1" x2="524.1" y1="450.4" y2="456.3" stroke="#333" stroke-width="1.15"/>
<line x1="557.55" x2="557.55" y1="450.4" y2="456.3" stroke="#333" stroke-width="1.15"/>
<line x1="591" x2="591" y1="450.4" y2="456.3" stroke="#333" stroke-width="1.15"/>
<line x1="624.45" x2="624.45" y1="450.4" y2="456.3" stroke="#333" stroke-width="1.15"/>
<line x1="657.9" x2="657.9" y1="450.4" y2="456.3" stroke="#333" stroke-width="1.15"/>
<text x="387.5" y="288.45" text-anchor="end" font-size="10.4" fill="#262626">50</text>
<text x="387.5" y="308.55" text-anchor="end" font-size="10.4" fill="#262626">25</text>
<text x="387.5" y="326.7" text-anchor="end" font-size="10.4" fill="#262626">12</text>
<text x="387.5" y="355.1" text-anchor="end" font-size="10.4" fill="#262626">11</text>
<text x="387.5" y="383.55" text-anchor="end" font-size="10.4" fill="#262626">10</text>
<text x="387.5" y="411.95" text-anchor="end" font-size="10.4" fill="#262626">9</text>
<text x="387.5" y="440.25" text-anchor="end" font-size="10.4" fill="#262626">8</text>
<text x="423.75" y="468.5" text-anchor="middle" font-size="10.4" fill="#262626">300</text>
<text x="457.2" y="468.5" text-anchor="middle" font-size="10.4" fill="#262626">400</text>
<text x="490.65" y="468.5" text-anchor="middle" font-size="10.4" fill="#262626">Solimp.</text>
<text x="524.1" y="468.5" text-anchor="middle" font-size="10.4" fill="#262626">m-Si</text>
<text x="557.55" y="468.5" text-anchor="middle" font-size="10.4" fill="#262626">p-Si</text>
<text x="591" y="468.5" text-anchor="middle" font-size="10.4" fill="#262626">FPC</text>
<text x="624.45" y="468.5" text-anchor="middle" font-size="10.4" fill="#262626">Aug.</text>
<text x="657.9" y="468.5" text-anchor="middle" font-size="10.4" fill="#262626">Euro.</text>
<text x="541" y="483.6" text-anchor="middle" font-size="11.5" fill="#262626">Technology type specified</text>
<text transform="translate(366.8,362) rotate(-90)" text-anchor="middle" font-size="10.85" fill="#262626">Specific cost / USDm<tspan font-size="7.4" dy="-4.2">-3</tspan></text>
<text x="541" y="265" text-anchor="middle" font-size="11.5" font-weight="bold" fill="#1a1a1a">La Paz, Mexico</text>
<text x="357.7" y="263.7" font-size="20" font-weight="bold" fill="#1a1a1a">d.</text>
<text x="455.6" y="281.9" text-anchor="middle" font-size="10.8" fill="#111" stroke="#111" stroke-width="0.25">PV-T</text>
<text x="539.3" y="281.9" text-anchor="middle" font-size="10.8" fill="#111" stroke="#111" stroke-width="0.25">PV</text>
<text x="626.2" y="281.9" text-anchor="middle" font-size="10.8" fill="#111" stroke="#111" stroke-width="0.25">Solar-thermal</text>
</svg></body></html>
